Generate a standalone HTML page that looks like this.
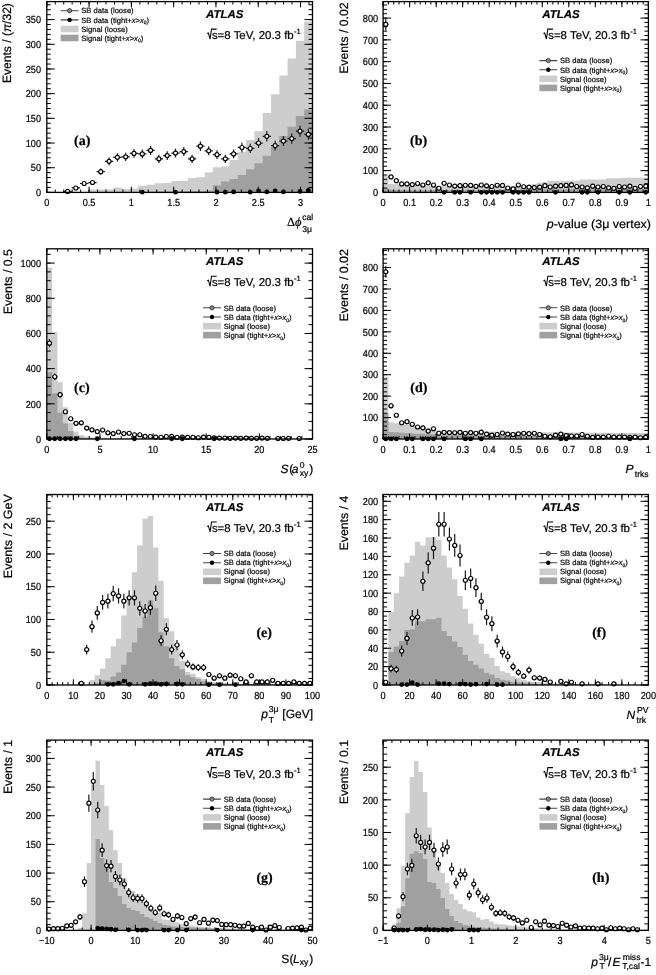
<!DOCTYPE html>
<html><head><meta charset="utf-8"><style>
html,body{margin:0;padding:0;background:#fff;overflow:hidden;}
svg text{stroke:#000;stroke-width:0.22px;}
svg{display:block;font-family:"Liberation Sans", sans-serif;filter:blur(0.3px);text-rendering:geometricPrecision;}
</style></head><body>
<svg width="656" height="975" viewBox="0 0 656 975" fill="#000">
<path d="M46.8,192.4 L46.8,192.4 L55.1,192.4 L55.1,192.4 L63.41,192.4 L63.41,192.4 L71.71,192.4 L71.71,192.4 L80.01,192.4 L80.01,192.4 L88.32,192.4 L88.32,189.44 L96.62,189.44 L96.62,189.44 L104.92,189.44 L104.92,189.44 L113.22,189.44 L113.22,187.46 L121.53,187.46 L121.53,188.94 L129.83,188.94 L129.83,188.45 L138.13,188.45 L138.13,185.74 L146.44,185.74 L146.44,184.7 L154.74,184.7 L154.74,183.37 L163.04,183.37 L163.04,183.07 L171.35,183.07 L171.35,180.95 L179.65,180.95 L179.65,180.8 L187.95,180.8 L187.95,177.98 L196.26,177.98 L196.26,177.19 L204.56,177.19 L204.56,172.16 L212.86,172.16 L212.86,167.22 L221.17,167.22 L221.17,166.23 L229.47,166.23 L229.47,160.06 L237.77,160.06 L237.77,152.02 L246.07,152.02 L246.07,140.07 L254.38,140.07 L254.38,131.18 L262.68,131.18 L262.68,112.91 L270.98,112.91 L270.98,94.15 L279.29,94.15 L279.29,75.39 L287.59,75.39 L287.59,58.61 L295.89,58.61 L295.89,40.83 L304.2,40.83 L304.2,21.58 L312.5,21.58 L312.5,192.4Z" fill="#cdcdcd"/>
<path d="M46.8,192.4 L46.8,192.4 L55.1,192.4 L55.1,192.4 L63.41,192.4 L63.41,192.4 L71.71,192.4 L71.71,192.4 L80.01,192.4 L80.01,192.4 L88.32,192.4 L88.32,192.15 L96.62,192.15 L96.62,192.15 L104.92,192.15 L104.92,192.15 L113.22,192.15 L113.22,191.91 L121.53,191.91 L121.53,191.91 L129.83,191.91 L129.83,191.91 L138.13,191.91 L138.13,191.66 L146.44,191.66 L146.44,191.66 L154.74,191.66 L154.74,191.41 L163.04,191.41 L163.04,191.41 L171.35,191.41 L171.35,191.41 L179.65,191.41 L179.65,191.17 L187.95,191.17 L187.95,190.92 L196.26,190.92 L196.26,190.92 L204.56,190.92 L204.56,190.43 L212.86,190.43 L212.86,185.19 L221.17,185.19 L221.17,181.54 L229.47,181.54 L229.47,179.07 L237.77,179.07 L237.77,175.12 L246.07,175.12 L246.07,169.2 L254.38,169.2 L254.38,163.27 L262.68,163.27 L262.68,155.87 L270.98,155.87 L270.98,146.98 L279.29,146.98 L279.29,136.12 L287.59,136.12 L287.59,126.74 L295.89,126.74 L295.89,115.88 L304.2,115.88 L304.2,109.46 L312.5,109.46 L312.5,192.4Z" fill="#a0a0a0"/>
<path d="M46.8,192.4v-2.9M46.8,1.6v2.9M55.26,192.4v-2.9M55.26,1.6v2.9M63.71,192.4v-2.9M63.71,1.6v2.9M72.17,192.4v-2.9M72.17,1.6v2.9M80.63,192.4v-2.9M80.63,1.6v2.9M89.09,192.4v-2.9M89.09,1.6v2.9M97.54,192.4v-2.9M97.54,1.6v2.9M106,192.4v-2.9M106,1.6v2.9M114.46,192.4v-2.9M114.46,1.6v2.9M122.92,192.4v-2.9M122.92,1.6v2.9M131.37,192.4v-2.9M131.37,1.6v2.9M139.83,192.4v-2.9M139.83,1.6v2.9M148.29,192.4v-2.9M148.29,1.6v2.9M156.75,192.4v-2.9M156.75,1.6v2.9M165.2,192.4v-2.9M165.2,1.6v2.9M173.66,192.4v-2.9M173.66,1.6v2.9M182.12,192.4v-2.9M182.12,1.6v2.9M190.58,192.4v-2.9M190.58,1.6v2.9M199.03,192.4v-2.9M199.03,1.6v2.9M207.49,192.4v-2.9M207.49,1.6v2.9M215.95,192.4v-2.9M215.95,1.6v2.9M224.41,192.4v-2.9M224.41,1.6v2.9M232.86,192.4v-2.9M232.86,1.6v2.9M241.32,192.4v-2.9M241.32,1.6v2.9M249.78,192.4v-2.9M249.78,1.6v2.9M258.24,192.4v-2.9M258.24,1.6v2.9M266.69,192.4v-2.9M266.69,1.6v2.9M275.15,192.4v-2.9M275.15,1.6v2.9M283.61,192.4v-2.9M283.61,1.6v2.9M292.07,192.4v-2.9M292.07,1.6v2.9M300.52,192.4v-2.9M300.52,1.6v2.9M308.98,192.4v-2.9M308.98,1.6v2.9M46.8,192.4v-5.7M46.8,1.6v5.7M89.09,192.4v-5.7M89.09,1.6v5.7M131.37,192.4v-5.7M131.37,1.6v5.7M173.66,192.4v-5.7M173.66,1.6v5.7M215.95,192.4v-5.7M215.95,1.6v5.7M258.24,192.4v-5.7M258.24,1.6v5.7M300.52,192.4v-5.7M300.52,1.6v5.7M46.8,192.4h4.0M312.5,192.4h-4.0M46.8,187.46h4.0M312.5,187.46h-4.0M46.8,182.53h4.0M312.5,182.53h-4.0M46.8,177.59h4.0M312.5,177.59h-4.0M46.8,172.65h4.0M312.5,172.65h-4.0M46.8,167.72h4.0M312.5,167.72h-4.0M46.8,162.78h4.0M312.5,162.78h-4.0M46.8,157.84h4.0M312.5,157.84h-4.0M46.8,152.9h4.0M312.5,152.9h-4.0M46.8,147.97h4.0M312.5,147.97h-4.0M46.8,143.03h4.0M312.5,143.03h-4.0M46.8,138.09h4.0M312.5,138.09h-4.0M46.8,133.16h4.0M312.5,133.16h-4.0M46.8,128.22h4.0M312.5,128.22h-4.0M46.8,123.28h4.0M312.5,123.28h-4.0M46.8,118.34h4.0M312.5,118.34h-4.0M46.8,113.41h4.0M312.5,113.41h-4.0M46.8,108.47h4.0M312.5,108.47h-4.0M46.8,103.53h4.0M312.5,103.53h-4.0M46.8,98.6h4.0M312.5,98.6h-4.0M46.8,93.66h4.0M312.5,93.66h-4.0M46.8,88.72h4.0M312.5,88.72h-4.0M46.8,83.79h4.0M312.5,83.79h-4.0M46.8,78.85h4.0M312.5,78.85h-4.0M46.8,73.91h4.0M312.5,73.91h-4.0M46.8,68.97h4.0M312.5,68.97h-4.0M46.8,64.04h4.0M312.5,64.04h-4.0M46.8,59.1h4.0M312.5,59.1h-4.0M46.8,54.16h4.0M312.5,54.16h-4.0M46.8,49.23h4.0M312.5,49.23h-4.0M46.8,44.29h4.0M312.5,44.29h-4.0M46.8,39.35h4.0M312.5,39.35h-4.0M46.8,34.42h4.0M312.5,34.42h-4.0M46.8,29.48h4.0M312.5,29.48h-4.0M46.8,24.54h4.0M312.5,24.54h-4.0M46.8,19.6h4.0M312.5,19.6h-4.0M46.8,14.67h4.0M312.5,14.67h-4.0M46.8,9.73h4.0M312.5,9.73h-4.0M46.8,4.79h4.0M312.5,4.79h-4.0M46.8,192.4h8.0M312.5,192.4h-8.0M46.8,167.72h8.0M312.5,167.72h-8.0M46.8,143.03h8.0M312.5,143.03h-8.0M46.8,118.34h8.0M312.5,118.34h-8.0M46.8,93.66h8.0M312.5,93.66h-8.0M46.8,68.97h8.0M312.5,68.97h-8.0M46.8,44.29h8.0M312.5,44.29h-8.0M46.8,19.6h8.0M312.5,19.6h-8.0" stroke="#000" stroke-width="1" fill="none"/>
<path d="M63.41,191.41H65.56M69.56,191.41H71.71M67.56,190.71V189.41M67.56,193.41V192.11M71.71,187.96H73.86M77.86,187.96H80.01M75.86,186.48V185.96M75.86,189.96V189.44M80.01,183.51H82.16M86.16,183.51H88.32M84.16,181.42V181.51M84.16,185.51V185.61M88.32,182.53H90.47M94.47,182.53H96.62M92.47,180.32V180.53M92.47,184.53V184.73M96.62,171.66H98.77M102.77,171.66H104.92M100.77,168.47V169.66M100.77,173.66V174.86M104.92,161.3H107.07M111.07,161.3H113.22M109.07,157.38V159.3M109.07,163.3V165.22M113.22,157.35H115.38M119.38,157.35H121.53M117.38,153.19V155.35M117.38,159.35V161.51M121.53,156.85H123.68M127.68,156.85H129.83M125.68,152.66V154.85M125.68,158.85V161.04M129.83,153.4H131.98M135.98,153.4H138.13M133.98,149.01V151.4M133.98,155.4V157.79M138.13,153.89H140.29M144.29,153.89H146.44M142.29,149.53V151.89M142.29,155.89V158.25M146.44,150.44H148.59M152.59,150.44H154.74M150.59,145.88V148.44M150.59,152.44V154.99M154.74,158.83H156.89M160.89,158.83H163.04M158.89,154.76V156.83M158.89,160.83V162.9M163.04,155.62H165.2M169.2,155.62H171.35M167.2,151.36V153.62M167.2,157.62V159.88M171.35,153.05H173.5M177.5,153.05H179.65M175.5,148.64V151.05M175.5,155.05V157.46M179.65,151.57H181.8M185.8,151.57H187.95M183.8,147.08V149.57M183.8,153.57V156.06M187.95,158.83H190.1M194.1,158.83H196.26M192.1,154.76V156.83M192.1,160.83V162.9M196.26,146.19H198.41M202.41,146.19H204.56M200.41,141.41V144.19M200.41,148.19V150.97M204.56,150.83H206.71M210.71,150.83H212.86M208.71,146.3V148.83M208.71,152.83V155.36M212.86,154.63H215.01M219.01,154.63H221.17M217.01,150.31V152.63M217.01,156.63V158.95M221.17,158.83H223.32M227.32,158.83H229.47M225.32,154.76V156.83M225.32,160.83V162.9M229.47,153.89H231.62M235.62,153.89H237.77M233.62,149.53V151.89M233.62,155.89V158.25M237.77,147.47H239.92M243.92,147.47H246.07M241.92,142.76V145.47M241.92,149.47V152.18M246.07,148.46H248.23M252.23,148.46H254.38M250.23,143.8V146.46M250.23,150.46V153.12M254.38,143.03H256.53M260.53,143.03H262.68M258.53,138.09V141.03M258.53,145.03V147.97M262.68,136.37H264.83M268.83,136.37H270.98M266.83,131.11V134.37M266.83,138.37V141.62M270.98,145.6H273.14M277.14,145.6H279.29M275.14,140.79V143.6M275.14,147.6V150.4M279.29,141.06H281.44M285.44,141.06H287.59M283.44,136.02V139.06M283.44,143.06V146.09M287.59,138.59H289.74M293.74,138.59H295.89M291.74,133.43V136.59M291.74,140.59V143.74M295.89,131.18H298.05M302.05,131.18H304.2M300.05,125.68V129.18M300.05,133.18V136.68M304.2,134.39H306.35M310.35,134.39H312.5M308.35,129.04V132.39M308.35,136.39V139.74" stroke="#1a1a1a" stroke-width="1.2" fill="none"/>
<g fill="#fff" stroke="#000" stroke-width="1.15"><circle cx="67.56" cy="191.41" r="2.0"/><circle cx="75.86" cy="187.96" r="2.0"/><circle cx="84.16" cy="183.51" r="2.0"/><circle cx="92.47" cy="182.53" r="2.0"/><circle cx="100.77" cy="171.66" r="2.0"/><circle cx="109.07" cy="161.3" r="2.0"/><circle cx="117.38" cy="157.35" r="2.0"/><circle cx="125.68" cy="156.85" r="2.0"/><circle cx="133.98" cy="153.4" r="2.0"/><circle cx="142.29" cy="153.89" r="2.0"/><circle cx="150.59" cy="150.44" r="2.0"/><circle cx="158.89" cy="158.83" r="2.0"/><circle cx="167.2" cy="155.62" r="2.0"/><circle cx="175.5" cy="153.05" r="2.0"/><circle cx="183.8" cy="151.57" r="2.0"/><circle cx="192.1" cy="158.83" r="2.0"/><circle cx="200.41" cy="146.19" r="2.0"/><circle cx="208.71" cy="150.83" r="2.0"/><circle cx="217.01" cy="154.63" r="2.0"/><circle cx="225.32" cy="158.83" r="2.0"/><circle cx="233.62" cy="153.89" r="2.0"/><circle cx="241.92" cy="147.47" r="2.0"/><circle cx="250.23" cy="148.46" r="2.0"/><circle cx="258.53" cy="143.03" r="2.0"/><circle cx="266.83" cy="136.37" r="2.0"/><circle cx="275.14" cy="145.6" r="2.0"/><circle cx="283.44" cy="141.06" r="2.0"/><circle cx="291.74" cy="138.59" r="2.0"/><circle cx="300.05" cy="131.18" r="2.0"/><circle cx="308.35" cy="134.39" r="2.0"/></g>
<g fill="#000"><circle cx="142.29" cy="192.15" r="2.4"/><circle cx="175.5" cy="192.15" r="2.4"/><circle cx="217.01" cy="192.15" r="2.4"/><circle cx="225.32" cy="192.15" r="2.4"/><circle cx="233.62" cy="191.91" r="2.4"/><circle cx="250.23" cy="192.15" r="2.4"/><circle cx="258.53" cy="190.92" r="2.4"/><circle cx="266.83" cy="191.91" r="2.4"/><circle cx="275.14" cy="190.92" r="2.4"/><circle cx="283.44" cy="191.91" r="2.4"/><circle cx="300.05" cy="191.41" r="2.4"/><circle cx="308.35" cy="190.43" r="2.4"/></g>
<rect x="46.8" y="1.6" width="265.7" height="190.8" fill="none" stroke="#000" stroke-width="1.3"/>
<text transform="translate(46.8,205.9) scale(0.9,1)" text-anchor="middle" font-size="10.2">0</text>
<text transform="translate(89.09,205.9) scale(0.9,1)" text-anchor="middle" font-size="10.2">0.5</text>
<text transform="translate(131.37,205.9) scale(0.9,1)" text-anchor="middle" font-size="10.2">1</text>
<text transform="translate(173.66,205.9) scale(0.9,1)" text-anchor="middle" font-size="10.2">1.5</text>
<text transform="translate(215.95,205.9) scale(0.9,1)" text-anchor="middle" font-size="10.2">2</text>
<text transform="translate(258.24,205.9) scale(0.9,1)" text-anchor="middle" font-size="10.2">2.5</text>
<text transform="translate(300.52,205.9) scale(0.9,1)" text-anchor="middle" font-size="10.2">3</text>
<text transform="translate(41,196.1) scale(0.9,1)" text-anchor="end" font-size="10.2">0</text>
<text transform="translate(41,171.41) scale(0.9,1)" text-anchor="end" font-size="10.2">50</text>
<text transform="translate(41,146.73) scale(0.9,1)" text-anchor="end" font-size="10.2">100</text>
<text transform="translate(41,122.05) scale(0.9,1)" text-anchor="end" font-size="10.2">150</text>
<text transform="translate(41,97.36) scale(0.9,1)" text-anchor="end" font-size="10.2">200</text>
<text transform="translate(41,72.67) scale(0.9,1)" text-anchor="end" font-size="10.2">250</text>
<text transform="translate(41,47.99) scale(0.9,1)" text-anchor="end" font-size="10.2">300</text>
<text transform="translate(41,23.3) scale(0.9,1)" text-anchor="end" font-size="10.2">350</text>
<text transform="translate(10.7,83) rotate(-90)" font-size="12.1" textLength="79.9" lengthAdjust="spacingAndGlyphs">Events / (<tspan font-style="italic">π</tspan>/32)</text>
<text x="287" y="226" font-size="12.5" font-family="Liberation Serif, serif">Δ</text><text x="295.0" y="226" font-size="12.5" font-style="italic" font-family="Liberation Serif, serif">ϕ</text><text x="302.3" y="219.8" font-size="8.6">cal</text><text x="302.3" y="231.8" font-size="8.6">3μ</text>
<text x="206" y="17.7" font-size="11.3" font-weight="bold" font-style="italic" textLength="37.4" lengthAdjust="spacingAndGlyphs">ATLAS</text>
<path d="M207.1,33.6l1.3,-0.6l1.7,6.0l1.4,-9.9h5.2" fill="none" stroke="#000" stroke-width="1.05"/>
<text x="211.9" y="39" font-size="11.4" textLength="81.8" lengthAdjust="spacingAndGlyphs">s=8 TeV, 20.3 fb</text>
<text x="293.9" y="34.2" font-size="7.6">-1</text>
<path d="M60.7,10.7h17.8M60.7,19.9h17.8" stroke="#444" stroke-width="1.1"/><circle cx="69.6" cy="10.7" r="2.1" fill="#888" stroke="#333" stroke-width="0.9"/><circle cx="69.6" cy="19.9" r="2.2" fill="#000"/><rect x="60.7" y="25.7" width="17.8" height="6.6" fill="#cdcdcd"/><rect x="60.7" y="34.7" width="17.8" height="6.6" fill="#a0a0a0"/><g font-size="7.6" fill="#1a1a1a" stroke="#1a1a1a" stroke-width="0.22"><text x="81.3" y="13.4">SB data (loose)</text><text x="81.3" y="22.6">SB data (tight+<tspan font-style="italic">x</tspan>&gt;<tspan font-style="italic">x</tspan><tspan dy="1.8" font-size="5">0</tspan><tspan dy="-1.8">)</tspan></text><text x="81.3" y="31.6">Signal (loose)</text><text x="81.3" y="40.6">Signal (tight+<tspan font-style="italic">x</tspan>&gt;<tspan font-style="italic">x</tspan><tspan dy="1.8" font-size="5">0</tspan><tspan dy="-1.8">)</tspan></text></g>
<text x="74.1" y="144.8" font-family='"Liberation Serif", serif' font-weight="bold" font-size="14">(a)</text>
<path d="M383.1,192.4 L383.1,175.19 L388.41,175.19 L388.41,184.12 L393.71,184.12 L393.71,184.34 L399.02,184.34 L399.02,184.56 L404.32,184.56 L404.32,184.77 L409.63,184.77 L409.63,184.99 L414.94,184.99 L414.94,185.21 L420.24,185.21 L420.24,185.43 L425.55,185.43 L425.55,185.65 L430.85,185.65 L430.85,185.86 L436.16,185.86 L436.16,185.86 L441.47,185.86 L441.47,186.3 L446.77,186.3 L446.77,186.52 L452.08,186.52 L452.08,186.52 L457.38,186.52 L457.38,186.73 L462.69,186.73 L462.69,186.73 L468,186.73 L468,186.73 L473.3,186.73 L473.3,186.73 L478.61,186.73 L478.61,186.73 L483.91,186.73 L483.91,186.73 L489.22,186.73 L489.22,186.52 L494.53,186.52 L494.53,186.52 L499.83,186.52 L499.83,186.52 L505.14,186.52 L505.14,186.3 L510.44,186.3 L510.44,186.3 L515.75,186.3 L515.75,186.3 L521.06,186.3 L521.06,185.86 L526.36,185.86 L526.36,185.21 L531.67,185.21 L531.67,184.12 L536.97,184.12 L536.97,182.81 L542.28,182.81 L542.28,181.94 L547.59,181.94 L547.59,180.63 L552.89,180.63 L552.89,180.63 L558.2,180.63 L558.2,180.63 L563.5,180.63 L563.5,180.63 L568.81,180.63 L568.81,180.63 L574.12,180.63 L574.12,180.63 L579.42,180.63 L579.42,179.54 L584.73,179.54 L584.73,179.54 L590.03,179.54 L590.03,179.54 L595.34,179.54 L595.34,179.54 L600.65,179.54 L600.65,179.54 L605.95,179.54 L605.95,178.24 L611.26,178.24 L611.26,178.24 L616.56,178.24 L616.56,178.24 L621.87,178.24 L621.87,177.8 L627.18,177.8 L627.18,177.8 L632.48,177.8 L632.48,177.8 L637.79,177.8 L637.79,177.8 L643.09,177.8 L643.09,177.8 L648.4,177.8 L648.4,192.4Z" fill="#cdcdcd"/>
<path d="M383.1,192.4 L383.1,188.26 L388.41,188.26 L388.41,189.79 L393.71,189.79 L393.71,190 L399.02,190 L399.02,190 L404.32,190 L404.32,190 L409.63,190 L409.63,190.22 L414.94,190.22 L414.94,190.22 L420.24,190.22 L420.24,190.22 L425.55,190.22 L425.55,190.22 L430.85,190.22 L430.85,190.22 L436.16,190.22 L436.16,190.22 L441.47,190.22 L441.47,190.22 L446.77,190.22 L446.77,190.22 L452.08,190.22 L452.08,190.22 L457.38,190.22 L457.38,190.22 L462.69,190.22 L462.69,190.22 L468,190.22 L468,190.22 L473.3,190.22 L473.3,190.22 L478.61,190.22 L478.61,190.22 L483.91,190.22 L483.91,190.22 L489.22,190.22 L489.22,190.22 L494.53,190.22 L494.53,190.22 L499.83,190.22 L499.83,190.22 L505.14,190.22 L505.14,190.22 L510.44,190.22 L510.44,190.22 L515.75,190.22 L515.75,190 L521.06,190 L521.06,190 L526.36,190 L526.36,190 L531.67,190 L531.67,189.79 L536.97,189.79 L536.97,189.79 L542.28,189.79 L542.28,189.57 L547.59,189.57 L547.59,189.57 L552.89,189.57 L552.89,189.57 L558.2,189.57 L558.2,189.57 L563.5,189.57 L563.5,189.35 L568.81,189.35 L568.81,189.35 L574.12,189.35 L574.12,189.35 L579.42,189.35 L579.42,189.35 L584.73,189.35 L584.73,189.13 L590.03,189.13 L590.03,189.13 L595.34,189.13 L595.34,189.13 L600.65,189.13 L600.65,189.13 L605.95,189.13 L605.95,188.91 L611.26,188.91 L611.26,188.91 L616.56,188.91 L616.56,188.91 L621.87,188.91 L621.87,188.91 L627.18,188.91 L627.18,188.91 L632.48,188.91 L632.48,188.91 L637.79,188.91 L637.79,188.91 L643.09,188.91 L643.09,188.91 L648.4,188.91 L648.4,192.4Z" fill="#a0a0a0"/>
<path d="M383.1,192.4v-2.9M383.1,1.6v2.9M388.41,192.4v-2.9M388.41,1.6v2.9M393.71,192.4v-2.9M393.71,1.6v2.9M399.02,192.4v-2.9M399.02,1.6v2.9M404.32,192.4v-2.9M404.32,1.6v2.9M409.63,192.4v-2.9M409.63,1.6v2.9M414.94,192.4v-2.9M414.94,1.6v2.9M420.24,192.4v-2.9M420.24,1.6v2.9M425.55,192.4v-2.9M425.55,1.6v2.9M430.85,192.4v-2.9M430.85,1.6v2.9M436.16,192.4v-2.9M436.16,1.6v2.9M441.47,192.4v-2.9M441.47,1.6v2.9M446.77,192.4v-2.9M446.77,1.6v2.9M452.08,192.4v-2.9M452.08,1.6v2.9M457.38,192.4v-2.9M457.38,1.6v2.9M462.69,192.4v-2.9M462.69,1.6v2.9M468,192.4v-2.9M468,1.6v2.9M473.3,192.4v-2.9M473.3,1.6v2.9M478.61,192.4v-2.9M478.61,1.6v2.9M483.91,192.4v-2.9M483.91,1.6v2.9M489.22,192.4v-2.9M489.22,1.6v2.9M494.53,192.4v-2.9M494.53,1.6v2.9M499.83,192.4v-2.9M499.83,1.6v2.9M505.14,192.4v-2.9M505.14,1.6v2.9M510.44,192.4v-2.9M510.44,1.6v2.9M515.75,192.4v-2.9M515.75,1.6v2.9M521.06,192.4v-2.9M521.06,1.6v2.9M526.36,192.4v-2.9M526.36,1.6v2.9M531.67,192.4v-2.9M531.67,1.6v2.9M536.97,192.4v-2.9M536.97,1.6v2.9M542.28,192.4v-2.9M542.28,1.6v2.9M547.59,192.4v-2.9M547.59,1.6v2.9M552.89,192.4v-2.9M552.89,1.6v2.9M558.2,192.4v-2.9M558.2,1.6v2.9M563.5,192.4v-2.9M563.5,1.6v2.9M568.81,192.4v-2.9M568.81,1.6v2.9M574.12,192.4v-2.9M574.12,1.6v2.9M579.42,192.4v-2.9M579.42,1.6v2.9M584.73,192.4v-2.9M584.73,1.6v2.9M590.03,192.4v-2.9M590.03,1.6v2.9M595.34,192.4v-2.9M595.34,1.6v2.9M600.65,192.4v-2.9M600.65,1.6v2.9M605.95,192.4v-2.9M605.95,1.6v2.9M611.26,192.4v-2.9M611.26,1.6v2.9M616.56,192.4v-2.9M616.56,1.6v2.9M621.87,192.4v-2.9M621.87,1.6v2.9M627.18,192.4v-2.9M627.18,1.6v2.9M632.48,192.4v-2.9M632.48,1.6v2.9M637.79,192.4v-2.9M637.79,1.6v2.9M643.09,192.4v-2.9M643.09,1.6v2.9M648.4,192.4v-2.9M648.4,1.6v2.9M383.1,192.4v-5.7M383.1,1.6v5.7M409.63,192.4v-5.7M409.63,1.6v5.7M436.16,192.4v-5.7M436.16,1.6v5.7M462.69,192.4v-5.7M462.69,1.6v5.7M489.22,192.4v-5.7M489.22,1.6v5.7M515.75,192.4v-5.7M515.75,1.6v5.7M542.28,192.4v-5.7M542.28,1.6v5.7M568.81,192.4v-5.7M568.81,1.6v5.7M595.34,192.4v-5.7M595.34,1.6v5.7M621.87,192.4v-5.7M621.87,1.6v5.7M648.4,192.4v-5.7M648.4,1.6v5.7M383.1,192.4h4.0M648.4,192.4h-4.0M383.1,188.04h4.0M648.4,188.04h-4.0M383.1,183.68h4.0M648.4,183.68h-4.0M383.1,179.33h4.0M648.4,179.33h-4.0M383.1,174.97h4.0M648.4,174.97h-4.0M383.1,170.61h4.0M648.4,170.61h-4.0M383.1,166.25h4.0M648.4,166.25h-4.0M383.1,161.89h4.0M648.4,161.89h-4.0M383.1,157.54h4.0M648.4,157.54h-4.0M383.1,153.18h4.0M648.4,153.18h-4.0M383.1,148.82h4.0M648.4,148.82h-4.0M383.1,144.46h4.0M648.4,144.46h-4.0M383.1,140.1h4.0M648.4,140.1h-4.0M383.1,135.75h4.0M648.4,135.75h-4.0M383.1,131.39h4.0M648.4,131.39h-4.0M383.1,127.03h4.0M648.4,127.03h-4.0M383.1,122.67h4.0M648.4,122.67h-4.0M383.1,118.31h4.0M648.4,118.31h-4.0M383.1,113.96h4.0M648.4,113.96h-4.0M383.1,109.6h4.0M648.4,109.6h-4.0M383.1,105.24h4.0M648.4,105.24h-4.0M383.1,100.88h4.0M648.4,100.88h-4.0M383.1,96.52h4.0M648.4,96.52h-4.0M383.1,92.17h4.0M648.4,92.17h-4.0M383.1,87.81h4.0M648.4,87.81h-4.0M383.1,83.45h4.0M648.4,83.45h-4.0M383.1,79.09h4.0M648.4,79.09h-4.0M383.1,74.73h4.0M648.4,74.73h-4.0M383.1,70.38h4.0M648.4,70.38h-4.0M383.1,66.02h4.0M648.4,66.02h-4.0M383.1,61.66h4.0M648.4,61.66h-4.0M383.1,57.3h4.0M648.4,57.3h-4.0M383.1,52.94h4.0M648.4,52.94h-4.0M383.1,48.59h4.0M648.4,48.59h-4.0M383.1,44.23h4.0M648.4,44.23h-4.0M383.1,39.87h4.0M648.4,39.87h-4.0M383.1,35.51h4.0M648.4,35.51h-4.0M383.1,31.15h4.0M648.4,31.15h-4.0M383.1,26.8h4.0M648.4,26.8h-4.0M383.1,22.44h4.0M648.4,22.44h-4.0M383.1,18.08h4.0M648.4,18.08h-4.0M383.1,13.72h4.0M648.4,13.72h-4.0M383.1,9.36h4.0M648.4,9.36h-4.0M383.1,5.01h4.0M648.4,5.01h-4.0M383.1,192.4h8.0M648.4,192.4h-8.0M383.1,170.61h8.0M648.4,170.61h-8.0M383.1,148.82h8.0M648.4,148.82h-8.0M383.1,127.03h8.0M648.4,127.03h-8.0M383.1,105.24h8.0M648.4,105.24h-8.0M383.1,83.45h8.0M648.4,83.45h-8.0M383.1,61.66h8.0M648.4,61.66h-8.0M383.1,39.87h8.0M648.4,39.87h-8.0M383.1,18.08h8.0M648.4,18.08h-8.0" stroke="#000" stroke-width="1" fill="none"/>
<path d="M383.1,24.4H383.75M387.75,24.4H388.41M385.75,18.35V22.4M385.75,26.4V30.45M388.41,176.93H389.06M393.06,176.93H393.71M391.06,175.09V174.93M391.06,178.93V178.77M393.71,180.63H394.37M398.37,180.63H399.02M396.37,179.03V178.63M396.37,182.63V182.23M399.02,183.9H399.67M403.67,183.9H404.32M401.67,182.54V181.9M401.67,185.9V185.26M404.32,183.9H404.98M408.98,183.9H409.63M406.98,182.54V181.9M406.98,185.9V185.26M409.63,184.56H410.28M414.28,184.56H414.94M412.28,183.25V182.56M412.28,186.56V185.86M414.94,183.47H415.59M419.59,183.47H420.24M417.59,182.07V181.47M417.59,185.47V184.86M420.24,184.99H420.9M424.9,184.99H425.55M422.9,183.72V182.99M422.9,186.99V186.26M425.55,182.81H426.2M430.2,182.81H430.85M428.2,181.37V180.81M428.2,184.81V184.26M430.85,184.99H431.51M435.51,184.99H436.16M433.51,183.72V182.99M433.51,186.99V186.26M436.16,188.26H436.81M440.81,188.26H441.47M438.81,187.31V186.26M438.81,190.26V189.21M441.47,183.25H442.12M446.12,183.25H446.77M444.12,181.84V181.25M444.12,185.25V184.66M446.77,184.99H447.43M451.43,184.99H452.08M449.43,183.72V182.99M449.43,186.99V186.26M452.08,186.08H452.73M456.73,186.08H457.38M454.73,184.91V184.08M454.73,188.08V187.25M457.38,185.65H458.04M462.04,185.65H462.69M460.04,184.43V183.65M460.04,187.65V186.86M462.69,185.21H463.34M467.34,185.21H468M465.34,183.96V183.21M465.34,187.21V186.46M468,185.43H468.65M472.65,185.43H473.3M470.65,184.19V183.43M470.65,187.43V186.66M473.3,186.3H473.95M477.95,186.3H478.61M475.95,185.15V184.3M475.95,188.3V187.45M478.61,184.99H479.26M483.26,184.99H483.91M481.26,183.72V182.99M481.26,186.99V186.26M483.91,185.86H484.57M488.57,185.86H489.22M486.57,184.67V183.86M486.57,187.86V187.06M489.22,186.52H489.87M493.87,186.52H494.53M491.87,185.38V184.52M491.87,188.52V187.65M494.53,185.21H495.18M499.18,185.21H499.83M497.18,183.96V183.21M497.18,187.21V186.46M499.83,185.43H500.49M504.49,185.43H505.14M502.49,184.19V183.43M502.49,187.43V186.66M505.14,188.04H505.79M509.79,188.04H510.44M507.79,187.07V186.04M507.79,190.04V189.02M510.44,188.91H511.1M515.1,188.91H515.75M513.1,188.04V186.91M513.1,190.91V189.79M515.75,184.99H516.4M520.4,184.99H521.06M518.4,183.72V182.99M518.4,186.99V186.26M521.06,186.73H521.71M525.71,186.73H526.36M523.71,185.62V184.73M523.71,188.73V187.85M526.36,187.17H527.01M531.01,187.17H531.67M529.01,186.1V185.17M529.01,189.17V188.24M531.67,187.61H532.32M536.32,187.61H536.97M534.32,186.58V185.61M534.32,189.61V188.63M536.97,187.17H537.63M541.63,187.17H542.28M539.63,186.1V185.17M539.63,189.17V188.24M542.28,185.65H542.93M546.93,185.65H547.59M544.93,184.43V183.65M544.93,187.65V186.86M547.59,186.95H548.24M552.24,186.95H552.89M550.24,185.86V184.95M550.24,188.95V188.04M552.89,186.19H553.54M557.54,186.19H558.2M555.54,185.03V184.19M555.54,188.19V187.35M558.2,185.65H558.85M562.85,185.65H563.5M560.85,184.43V183.65M560.85,187.65V186.86M563.5,185.43H564.16M568.16,185.43H568.81M566.16,184.19V183.43M566.16,187.43V186.66M568.81,184.88H569.46M573.46,184.88H574.12M571.46,183.6V182.88M571.46,186.88V186.16M574.12,186.52H574.77M578.77,186.52H579.42M576.77,185.38V184.52M576.77,188.52V187.65M579.42,186.95H580.08M584.08,186.95H584.73M582.08,185.86V184.95M582.08,188.95V188.04M584.73,187.82H585.38M589.38,187.82H590.03M587.38,186.83V185.82M587.38,189.82V188.82M590.03,186.19H590.69M594.69,186.19H595.34M592.69,185.03V184.19M592.69,188.19V187.35M595.34,186.95H595.99M599.99,186.95H600.65M597.99,185.86V184.95M597.99,188.95V188.04M600.65,186.52H601.3M605.3,186.52H605.95M603.3,185.38V184.52M603.3,188.52V187.65M605.95,187.82H606.61M610.61,187.82H611.26M608.61,186.83V185.82M608.61,189.82V188.82M611.26,188.37H611.91M615.91,188.37H616.56M613.91,187.43V186.37M613.91,190.37V189.31M616.56,186.52H617.22M621.22,186.52H621.87M619.22,185.38V184.52M619.22,188.52V187.65M621.87,186.95H622.52M626.52,186.95H627.18M624.52,185.86V184.95M624.52,188.95V188.04M627.18,186.19H627.83M631.83,186.19H632.48M629.83,185.03V184.19M629.83,188.19V187.35M632.48,188.37H633.13M637.13,188.37H637.79M635.13,187.43V186.37M635.13,190.37V189.31M637.79,186.52H638.44M642.44,186.52H643.09M640.44,185.38V184.52M640.44,188.52V187.65M643.09,186.19H643.75M647.75,186.19H648.4M645.75,185.03V184.19M645.75,188.19V187.35" stroke="#1a1a1a" stroke-width="1.2" fill="none"/>
<g fill="#fff" stroke="#000" stroke-width="1.15"><circle cx="385.75" cy="24.4" r="2.0"/><circle cx="391.06" cy="176.93" r="2.0"/><circle cx="396.37" cy="180.63" r="2.0"/><circle cx="401.67" cy="183.9" r="2.0"/><circle cx="406.98" cy="183.9" r="2.0"/><circle cx="412.28" cy="184.56" r="2.0"/><circle cx="417.59" cy="183.47" r="2.0"/><circle cx="422.9" cy="184.99" r="2.0"/><circle cx="428.2" cy="182.81" r="2.0"/><circle cx="433.51" cy="184.99" r="2.0"/><circle cx="438.81" cy="188.26" r="2.0"/><circle cx="444.12" cy="183.25" r="2.0"/><circle cx="449.43" cy="184.99" r="2.0"/><circle cx="454.73" cy="186.08" r="2.0"/><circle cx="460.04" cy="185.65" r="2.0"/><circle cx="465.34" cy="185.21" r="2.0"/><circle cx="470.65" cy="185.43" r="2.0"/><circle cx="475.95" cy="186.3" r="2.0"/><circle cx="481.26" cy="184.99" r="2.0"/><circle cx="486.57" cy="185.86" r="2.0"/><circle cx="491.87" cy="186.52" r="2.0"/><circle cx="497.18" cy="185.21" r="2.0"/><circle cx="502.49" cy="185.43" r="2.0"/><circle cx="507.79" cy="188.04" r="2.0"/><circle cx="513.1" cy="188.91" r="2.0"/><circle cx="518.4" cy="184.99" r="2.0"/><circle cx="523.71" cy="186.73" r="2.0"/><circle cx="529.01" cy="187.17" r="2.0"/><circle cx="534.32" cy="187.61" r="2.0"/><circle cx="539.63" cy="187.17" r="2.0"/><circle cx="544.93" cy="185.65" r="2.0"/><circle cx="550.24" cy="186.95" r="2.0"/><circle cx="555.54" cy="186.19" r="2.0"/><circle cx="560.85" cy="185.65" r="2.0"/><circle cx="566.16" cy="185.43" r="2.0"/><circle cx="571.46" cy="184.88" r="2.0"/><circle cx="576.77" cy="186.52" r="2.0"/><circle cx="582.08" cy="186.95" r="2.0"/><circle cx="587.38" cy="187.82" r="2.0"/><circle cx="592.69" cy="186.19" r="2.0"/><circle cx="597.99" cy="186.95" r="2.0"/><circle cx="603.3" cy="186.52" r="2.0"/><circle cx="608.61" cy="187.82" r="2.0"/><circle cx="613.91" cy="188.37" r="2.0"/><circle cx="619.22" cy="186.52" r="2.0"/><circle cx="624.52" cy="186.95" r="2.0"/><circle cx="629.83" cy="186.19" r="2.0"/><circle cx="635.13" cy="188.37" r="2.0"/><circle cx="640.44" cy="186.52" r="2.0"/><circle cx="645.75" cy="186.19" r="2.0"/></g>
<g fill="#000"><circle cx="444.12" cy="192.29" r="2.4"/><circle cx="454.73" cy="192.29" r="2.4"/><circle cx="460.04" cy="192.29" r="2.4"/><circle cx="470.65" cy="192.29" r="2.4"/><circle cx="481.26" cy="192.29" r="2.4"/><circle cx="486.57" cy="192.29" r="2.4"/><circle cx="491.87" cy="192.29" r="2.4"/><circle cx="497.18" cy="192.29" r="2.4"/><circle cx="502.49" cy="192.29" r="2.4"/><circle cx="513.1" cy="192.29" r="2.4"/><circle cx="518.4" cy="192.29" r="2.4"/><circle cx="523.71" cy="192.29" r="2.4"/><circle cx="529.01" cy="192.29" r="2.4"/><circle cx="555.54" cy="192.29" r="2.4"/><circle cx="582.08" cy="192.29" r="2.4"/><circle cx="587.38" cy="192.29" r="2.4"/><circle cx="597.99" cy="192.29" r="2.4"/><circle cx="619.22" cy="192.29" r="2.4"/><circle cx="629.83" cy="192.29" r="2.4"/><circle cx="645.75" cy="192.29" r="2.4"/></g>
<rect x="383.1" y="1.6" width="265.3" height="190.8" fill="none" stroke="#000" stroke-width="1.3"/>
<text transform="translate(383.1,205.9) scale(0.9,1)" text-anchor="middle" font-size="10.2">0</text>
<text transform="translate(409.63,205.9) scale(0.9,1)" text-anchor="middle" font-size="10.2">0.1</text>
<text transform="translate(436.16,205.9) scale(0.9,1)" text-anchor="middle" font-size="10.2">0.2</text>
<text transform="translate(462.69,205.9) scale(0.9,1)" text-anchor="middle" font-size="10.2">0.3</text>
<text transform="translate(489.22,205.9) scale(0.9,1)" text-anchor="middle" font-size="10.2">0.4</text>
<text transform="translate(515.75,205.9) scale(0.9,1)" text-anchor="middle" font-size="10.2">0.5</text>
<text transform="translate(542.28,205.9) scale(0.9,1)" text-anchor="middle" font-size="10.2">0.6</text>
<text transform="translate(568.81,205.9) scale(0.9,1)" text-anchor="middle" font-size="10.2">0.7</text>
<text transform="translate(595.34,205.9) scale(0.9,1)" text-anchor="middle" font-size="10.2">0.8</text>
<text transform="translate(621.87,205.9) scale(0.9,1)" text-anchor="middle" font-size="10.2">0.9</text>
<text transform="translate(648.4,205.9) scale(0.9,1)" text-anchor="middle" font-size="10.2">1</text>
<text transform="translate(378.1,196.1) scale(0.9,1)" text-anchor="end" font-size="10.2">0</text>
<text transform="translate(378.1,174.31) scale(0.9,1)" text-anchor="end" font-size="10.2">100</text>
<text transform="translate(378.1,152.52) scale(0.9,1)" text-anchor="end" font-size="10.2">200</text>
<text transform="translate(378.1,130.73) scale(0.9,1)" text-anchor="end" font-size="10.2">300</text>
<text transform="translate(378.1,108.94) scale(0.9,1)" text-anchor="end" font-size="10.2">400</text>
<text transform="translate(378.1,87.15) scale(0.9,1)" text-anchor="end" font-size="10.2">500</text>
<text transform="translate(378.1,65.36) scale(0.9,1)" text-anchor="end" font-size="10.2">600</text>
<text transform="translate(378.1,43.57) scale(0.9,1)" text-anchor="end" font-size="10.2">700</text>
<text transform="translate(378.1,21.78) scale(0.9,1)" text-anchor="end" font-size="10.2">800</text>
<text transform="translate(347.9,73.8) rotate(-90)" font-size="12.1" textLength="71.3" lengthAdjust="spacingAndGlyphs">Events / 0.02</text>
<text x="651" y="227.6" font-size="12.0" textLength="104.3" lengthAdjust="spacingAndGlyphs" text-anchor="end"><tspan font-style="italic">p</tspan>-value (3μ vertex)</text>
<text x="542.3" y="17.7" font-size="11.3" font-weight="bold" font-style="italic" textLength="37.4" lengthAdjust="spacingAndGlyphs">ATLAS</text>
<path d="M543.4,33.6l1.3,-0.6l1.7,6.0l1.4,-9.9h5.2" fill="none" stroke="#000" stroke-width="1.05"/>
<text x="548.2" y="39" font-size="11.4" textLength="81.8" lengthAdjust="spacingAndGlyphs">s=8 TeV, 20.3 fb</text>
<text x="630.2" y="34.2" font-size="7.6">-1</text>
<path d="M539.4,60.6h17.8M539.4,69.8h17.8" stroke="#444" stroke-width="1.1"/><circle cx="548.3" cy="60.6" r="2.1" fill="#888" stroke="#333" stroke-width="0.9"/><circle cx="548.3" cy="69.8" r="2.2" fill="#000"/><rect x="539.4" y="75.6" width="17.8" height="6.6" fill="#cdcdcd"/><rect x="539.4" y="84.6" width="17.8" height="6.6" fill="#a0a0a0"/><g font-size="7.6" fill="#1a1a1a" stroke="#1a1a1a" stroke-width="0.22"><text x="560" y="63.3">SB data (loose)</text><text x="560" y="72.5">SB data (tight+<tspan font-style="italic">x</tspan>&gt;<tspan font-style="italic">x</tspan><tspan dy="1.8" font-size="5">0</tspan><tspan dy="-1.8">)</tspan></text><text x="560" y="81.5">Signal (loose)</text><text x="560" y="90.5">Signal (tight+<tspan font-style="italic">x</tspan>&gt;<tspan font-style="italic">x</tspan><tspan dy="1.8" font-size="5">0</tspan><tspan dy="-1.8">)</tspan></text></g>
<text x="410.1" y="144.8" font-family='"Liberation Serif", serif' font-weight="bold" font-size="14">(b)</text>
<path d="M46.8,439 L46.8,267.5 L52.11,267.5 L52.11,332.23 L57.43,332.23 L57.43,382.36 L62.74,382.36 L62.74,407.16 L68.06,407.16 L68.06,422.82 L73.37,422.82 L73.37,431.44 L78.68,431.44 L78.68,434.95 L84,434.95 L84,436.54 L89.31,436.54 L89.31,437.42 L94.63,437.42 L94.63,437.77 L99.94,437.77 L99.94,438.12 L105.25,438.12 L105.25,438.3 L110.57,438.3 L110.57,438.3 L115.88,438.3 L115.88,438.47 L121.2,438.47 L121.2,438.47 L126.51,438.47 L126.51,438.47 L131.82,438.47 L131.82,438.65 L137.14,438.65 L137.14,438.65 L142.45,438.65 L142.45,438.65 L147.77,438.65 L147.77,438.65 L153.08,438.65 L153.08,438.65 L158.39,438.65 L158.39,438.65 L163.71,438.65 L163.71,438.74 L169.02,438.74 L169.02,438.74 L174.34,438.74 L174.34,438.74 L179.65,438.74 L179.65,438.74 L184.96,438.74 L184.96,438.82 L190.28,438.82 L190.28,438.82 L195.59,438.82 L195.59,438.82 L200.91,438.82 L200.91,438.82 L206.22,438.82 L206.22,438.82 L211.53,438.82 L211.53,438.82 L216.85,438.82 L216.85,438.82 L222.16,438.82 L222.16,438.82 L227.48,438.82 L227.48,438.82 L232.79,438.82 L232.79,438.82 L238.1,438.82 L238.1,438.82 L243.42,438.82 L243.42,438.82 L248.73,438.82 L248.73,438.82 L254.05,438.82 L254.05,438.82 L259.36,438.82 L259.36,438.82 L264.67,438.82 L264.67,438.82 L269.99,438.82 L269.99,438.82 L275.3,438.82 L275.3,438.82 L280.62,438.82 L280.62,438.82 L285.93,438.82 L285.93,438.82 L291.24,438.82 L291.24,438.82 L296.56,438.82 L296.56,438.82 L301.87,438.82 L301.87,438.82 L307.19,438.82 L307.19,438.82 L312.5,438.82 L312.5,439Z" fill="#cdcdcd"/>
<path d="M46.8,439 L46.8,371.98 L52.11,371.98 L52.11,393.27 L57.43,393.27 L57.43,412.79 L62.74,412.79 L62.74,423.52 L68.06,423.52 L68.06,430.91 L73.37,430.91 L73.37,435.83 L78.68,435.83 L78.68,437.59 L84,437.59 L84,438.3 L89.31,438.3 L89.31,438.47 L94.63,438.47 L94.63,438.65 L99.94,438.65 L99.94,438.65 L105.25,438.65 L105.25,438.74 L110.57,438.74 L110.57,438.74 L115.88,438.74 L115.88,438.82 L121.2,438.82 L121.2,438.82 L126.51,438.82 L126.51,438.82 L131.82,438.82 L131.82,438.82 L137.14,438.82 L137.14,438.82 L142.45,438.82 L142.45,438.82 L147.77,438.82 L147.77,438.82 L153.08,438.82 L153.08,438.82 L158.39,438.82 L158.39,438.82 L163.71,438.82 L163.71,438.91 L169.02,438.91 L169.02,438.91 L174.34,438.91 L174.34,438.91 L179.65,438.91 L179.65,438.91 L184.96,438.91 L184.96,438.91 L190.28,438.91 L190.28,438.91 L195.59,438.91 L195.59,438.91 L200.91,438.91 L200.91,438.91 L206.22,438.91 L206.22,438.91 L211.53,438.91 L211.53,438.91 L216.85,438.91 L216.85,438.91 L222.16,438.91 L222.16,438.91 L227.48,438.91 L227.48,438.91 L232.79,438.91 L232.79,438.91 L238.1,438.91 L238.1,438.91 L243.42,438.91 L243.42,438.91 L248.73,438.91 L248.73,438.91 L254.05,438.91 L254.05,438.91 L259.36,438.91 L259.36,438.91 L264.67,438.91 L264.67,438.91 L269.99,438.91 L269.99,438.91 L275.3,438.91 L275.3,438.91 L280.62,438.91 L280.62,438.91 L285.93,438.91 L285.93,438.91 L291.24,438.91 L291.24,438.91 L296.56,438.91 L296.56,438.91 L301.87,438.91 L301.87,438.91 L307.19,438.91 L307.19,438.91 L312.5,438.91 L312.5,439Z" fill="#a0a0a0"/>
<path d="M46.8,439v-2.9M46.8,248.8v2.9M57.43,439v-2.9M57.43,248.8v2.9M68.06,439v-2.9M68.06,248.8v2.9M78.68,439v-2.9M78.68,248.8v2.9M89.31,439v-2.9M89.31,248.8v2.9M99.94,439v-2.9M99.94,248.8v2.9M110.57,439v-2.9M110.57,248.8v2.9M121.2,439v-2.9M121.2,248.8v2.9M131.82,439v-2.9M131.82,248.8v2.9M142.45,439v-2.9M142.45,248.8v2.9M153.08,439v-2.9M153.08,248.8v2.9M163.71,439v-2.9M163.71,248.8v2.9M174.34,439v-2.9M174.34,248.8v2.9M184.96,439v-2.9M184.96,248.8v2.9M195.59,439v-2.9M195.59,248.8v2.9M206.22,439v-2.9M206.22,248.8v2.9M216.85,439v-2.9M216.85,248.8v2.9M227.48,439v-2.9M227.48,248.8v2.9M238.1,439v-2.9M238.1,248.8v2.9M248.73,439v-2.9M248.73,248.8v2.9M259.36,439v-2.9M259.36,248.8v2.9M269.99,439v-2.9M269.99,248.8v2.9M280.62,439v-2.9M280.62,248.8v2.9M291.24,439v-2.9M291.24,248.8v2.9M301.87,439v-2.9M301.87,248.8v2.9M312.5,439v-2.9M312.5,248.8v2.9M46.8,439v-5.7M46.8,248.8v5.7M99.94,439v-5.7M99.94,248.8v5.7M153.08,439v-5.7M153.08,248.8v5.7M206.22,439v-5.7M206.22,248.8v5.7M259.36,439v-5.7M259.36,248.8v5.7M312.5,439v-5.7M312.5,248.8v5.7M46.8,439h4.0M312.5,439h-4.0M46.8,430.2h4.0M312.5,430.2h-4.0M46.8,421.41h4.0M312.5,421.41h-4.0M46.8,412.62h4.0M312.5,412.62h-4.0M46.8,403.82h4.0M312.5,403.82h-4.0M46.8,395.02h4.0M312.5,395.02h-4.0M46.8,386.23h4.0M312.5,386.23h-4.0M46.8,377.44h4.0M312.5,377.44h-4.0M46.8,368.64h4.0M312.5,368.64h-4.0M46.8,359.85h4.0M312.5,359.85h-4.0M46.8,351.05h4.0M312.5,351.05h-4.0M46.8,342.25h4.0M312.5,342.25h-4.0M46.8,333.46h4.0M312.5,333.46h-4.0M46.8,324.67h4.0M312.5,324.67h-4.0M46.8,315.87h4.0M312.5,315.87h-4.0M46.8,307.07h4.0M312.5,307.07h-4.0M46.8,298.28h4.0M312.5,298.28h-4.0M46.8,289.49h4.0M312.5,289.49h-4.0M46.8,280.69h4.0M312.5,280.69h-4.0M46.8,271.89h4.0M312.5,271.89h-4.0M46.8,263.1h4.0M312.5,263.1h-4.0M46.8,254.31h4.0M312.5,254.31h-4.0M46.8,439h8.0M312.5,439h-8.0M46.8,403.82h8.0M312.5,403.82h-8.0M46.8,368.64h8.0M312.5,368.64h-8.0M46.8,333.46h8.0M312.5,333.46h-8.0M46.8,298.28h8.0M312.5,298.28h-8.0M46.8,263.1h8.0M312.5,263.1h-8.0" stroke="#000" stroke-width="1" fill="none"/>
<path d="M46.8,343.13H47.46M51.46,343.13H52.11M49.46,339.03V341.13M49.46,345.13V347.24M52.11,376.73H52.77M56.77,376.73H57.43M54.77,373.42V374.73M54.77,378.73V380.04M57.43,394.67H58.08M62.08,394.67H62.74M60.08,391.88V392.67M60.08,396.67V397.47M62.74,411.74H63.4M67.4,411.74H68.06M65.4,409.55V409.74M65.4,413.74V413.93M68.06,418.77H68.71M72.71,418.77H73.37M70.71,416.89V416.77M70.71,420.77V420.66M73.37,423.34H74.03M78.03,423.34H78.68M76.03,421.69V421.34M76.03,425.34V425M78.68,422.82H79.34M83.34,422.82H84M81.34,421.13V420.82M81.34,424.82V424.5M84,428.09H84.66M88.66,428.09H89.31M86.66,426.71V426.09M86.66,430.09V429.48M89.31,429.85H89.97M93.97,429.85H94.63M91.97,428.58V427.85M91.97,431.85V431.12M94.63,431.61H95.28M99.28,431.61H99.94M97.28,430.47V429.61M97.28,433.61V432.75M99.94,430.03H100.6M104.6,430.03H105.25M102.6,428.77V428.03M102.6,432.03V431.29M105.25,432.84H105.91M109.91,432.84H110.57M107.91,431.8V430.84M107.91,434.84V433.88M110.57,433.55H111.22M115.22,433.55H115.88M113.22,432.57V431.55M113.22,435.55V434.53M115.88,431.96H116.54M120.54,431.96H121.2M118.54,430.85V429.96M118.54,433.96V433.08M121.2,433.55H121.85M125.85,433.55H126.51M123.85,432.57V431.55M123.85,435.55V434.53M126.51,433.2H127.17M131.17,433.2H131.82M129.17,432.18V431.2M129.17,435.2V434.21M131.82,434.78H132.48M136.48,434.78H137.14M134.48,433.92V432.78M134.48,436.78V435.64M137.14,434.78H137.79M141.79,434.78H142.45M139.79,433.92V432.78M139.79,436.78V435.64M142.45,436.36H143.11M147.11,436.36H147.77M145.11,435.68V434.36M145.11,438.36V437.04M147.77,436.54H148.42M152.42,436.54H153.08M150.42,435.88V434.54M150.42,438.54V437.2M153.08,437.07H153.74M157.74,437.07H158.39M155.74,436.48V435.07M155.74,439.07V437.65M158.39,437.24H159.05M163.05,437.24H163.71M161.05,436.68V435.24M161.05,439.24V437.8M163.71,436.54H164.37M168.37,436.54H169.02M166.37,435.88V434.54M166.37,438.54V437.2M169.02,436.36H169.68M173.68,436.36H174.34M171.68,435.68V434.36M171.68,438.36V437.04M174.34,437.24H174.99M178.99,437.24H179.65M176.99,436.68V435.24M176.99,439.24V437.8M179.65,437.07H180.31M184.31,437.07H184.96M182.31,436.48V435.07M182.31,439.07V437.65M184.96,437.42H185.62M189.62,437.42H190.28M187.62,436.89V435.42M187.62,439.42V437.94M190.28,437.24H190.94M194.94,437.24H195.59M192.94,436.68V435.24M192.94,439.24V437.8M195.59,437.77H196.25M200.25,437.77H200.91M198.25,437.3V435.77M198.25,439.77V438.23M200.91,437.07H201.56M205.56,437.07H206.22M203.56,436.48V435.07M203.56,439.07V437.65M206.22,437.42H206.88M210.88,437.42H211.53M208.88,436.89V435.42M208.88,439.42V437.94M211.53,437.77H212.19M216.19,437.77H216.85M214.19,437.3V435.77M214.19,439.77V438.23M216.85,438.12H217.5M221.5,438.12H222.16M219.5,437.73V436.12M219.5,440.12V438.51M222.16,438.12H222.82M226.82,438.12H227.48M224.82,437.73V436.12M224.82,440.12V438.51M227.48,438.3H228.13M232.13,438.3H232.79M230.13,437.94V436.3M230.13,440.3V438.65M232.79,438.12H233.45M237.45,438.12H238.1M235.45,437.73V436.12M235.45,440.12V438.51M238.1,438.3H238.76M242.76,438.3H243.42M240.76,437.94V436.3M240.76,440.3V438.65M243.42,438.12H244.07M248.07,438.12H248.73M246.07,437.73V436.12M246.07,440.12V438.51M248.73,438.3H249.39M253.39,438.3H254.05M251.39,437.94V436.3M251.39,440.3V438.65M254.05,438.3H254.7M258.7,438.3H259.36M256.7,437.94V436.3M256.7,440.3V438.65M259.36,438.12H260.02M264.02,438.12H264.67M262.02,437.73V436.12M262.02,440.12V438.51M264.67,438.3H265.33M269.33,438.3H269.99M267.33,437.94V436.3M267.33,440.3V438.65M275.3,438.47H275.96M279.96,438.47H280.62M277.96,438.17V436.47M277.96,440.47V438.78M280.62,438.47H281.27M285.27,438.47H285.93M283.27,438.17V436.47M283.27,440.47V438.78M285.93,438.3H286.59M290.59,438.3H291.24M288.59,437.94V436.3M288.59,440.3V438.65M296.56,438.47H297.21M301.21,438.47H301.87M299.21,438.17V436.47M299.21,440.47V438.78" stroke="#1a1a1a" stroke-width="1.2" fill="none"/>
<g fill="#fff" stroke="#000" stroke-width="1.15"><circle cx="49.46" cy="343.13" r="2.0"/><circle cx="54.77" cy="376.73" r="2.0"/><circle cx="60.08" cy="394.67" r="2.0"/><circle cx="65.4" cy="411.74" r="2.0"/><circle cx="70.71" cy="418.77" r="2.0"/><circle cx="76.03" cy="423.34" r="2.0"/><circle cx="81.34" cy="422.82" r="2.0"/><circle cx="86.66" cy="428.09" r="2.0"/><circle cx="91.97" cy="429.85" r="2.0"/><circle cx="97.28" cy="431.61" r="2.0"/><circle cx="102.6" cy="430.03" r="2.0"/><circle cx="107.91" cy="432.84" r="2.0"/><circle cx="113.22" cy="433.55" r="2.0"/><circle cx="118.54" cy="431.96" r="2.0"/><circle cx="123.85" cy="433.55" r="2.0"/><circle cx="129.17" cy="433.2" r="2.0"/><circle cx="134.48" cy="434.78" r="2.0"/><circle cx="139.79" cy="434.78" r="2.0"/><circle cx="145.11" cy="436.36" r="2.0"/><circle cx="150.42" cy="436.54" r="2.0"/><circle cx="155.74" cy="437.07" r="2.0"/><circle cx="161.05" cy="437.24" r="2.0"/><circle cx="166.37" cy="436.54" r="2.0"/><circle cx="171.68" cy="436.36" r="2.0"/><circle cx="176.99" cy="437.24" r="2.0"/><circle cx="182.31" cy="437.07" r="2.0"/><circle cx="187.62" cy="437.42" r="2.0"/><circle cx="192.94" cy="437.24" r="2.0"/><circle cx="198.25" cy="437.77" r="2.0"/><circle cx="203.56" cy="437.07" r="2.0"/><circle cx="208.88" cy="437.42" r="2.0"/><circle cx="214.19" cy="437.77" r="2.0"/><circle cx="219.5" cy="438.12" r="2.0"/><circle cx="224.82" cy="438.12" r="2.0"/><circle cx="230.13" cy="438.3" r="2.0"/><circle cx="235.45" cy="438.12" r="2.0"/><circle cx="240.76" cy="438.3" r="2.0"/><circle cx="246.07" cy="438.12" r="2.0"/><circle cx="251.39" cy="438.3" r="2.0"/><circle cx="256.7" cy="438.3" r="2.0"/><circle cx="262.02" cy="438.12" r="2.0"/><circle cx="267.33" cy="438.3" r="2.0"/><circle cx="277.96" cy="438.47" r="2.0"/><circle cx="283.27" cy="438.47" r="2.0"/><circle cx="288.59" cy="438.3" r="2.0"/><circle cx="299.21" cy="438.47" r="2.0"/></g>
<g fill="#000"><circle cx="49.46" cy="438.74" r="2.4"/><circle cx="54.77" cy="438.74" r="2.4"/><circle cx="60.08" cy="438.74" r="2.4"/><circle cx="65.4" cy="438.74" r="2.4"/><circle cx="70.71" cy="438.74" r="2.4"/><circle cx="76.03" cy="438.74" r="2.4"/><circle cx="97.28" cy="438.74" r="2.4"/><circle cx="134.48" cy="438.74" r="2.4"/><circle cx="171.68" cy="438.74" r="2.4"/><circle cx="182.31" cy="438.74" r="2.4"/><circle cx="214.19" cy="438.74" r="2.4"/></g>
<rect x="46.8" y="248.8" width="265.7" height="190.2" fill="none" stroke="#000" stroke-width="1.3"/>
<text transform="translate(46.8,452.5) scale(0.9,1)" text-anchor="middle" font-size="10.2">0</text>
<text transform="translate(99.94,452.5) scale(0.9,1)" text-anchor="middle" font-size="10.2">5</text>
<text transform="translate(153.08,452.5) scale(0.9,1)" text-anchor="middle" font-size="10.2">10</text>
<text transform="translate(206.22,452.5) scale(0.9,1)" text-anchor="middle" font-size="10.2">15</text>
<text transform="translate(259.36,452.5) scale(0.9,1)" text-anchor="middle" font-size="10.2">20</text>
<text transform="translate(312.5,452.5) scale(0.9,1)" text-anchor="middle" font-size="10.2">25</text>
<text transform="translate(41,442.7) scale(0.9,1)" text-anchor="end" font-size="10.2">0</text>
<text transform="translate(41,407.52) scale(0.9,1)" text-anchor="end" font-size="10.2">200</text>
<text transform="translate(41,372.34) scale(0.9,1)" text-anchor="end" font-size="10.2">400</text>
<text transform="translate(41,337.16) scale(0.9,1)" text-anchor="end" font-size="10.2">600</text>
<text transform="translate(41,301.98) scale(0.9,1)" text-anchor="end" font-size="10.2">800</text>
<text transform="translate(41,266.8) scale(0.9,1)" text-anchor="end" font-size="10.2">1000</text>
<text transform="translate(12.2,314.2) rotate(-90)" font-size="12.1" textLength="65.1" lengthAdjust="spacingAndGlyphs">Events / 0.5</text>
<text x="280.6" y="472.9" font-size="12.0" font-style="italic">S</text><text x="289.2" y="472.9" font-size="12.0">(</text><text x="291.8" y="472.9" font-size="12.0" font-style="italic">a</text><text x="299.8" y="468.2" font-size="8.6">0</text><text x="299.8" y="475.6" font-size="8.6">xy</text><text x="309.2" y="472.9" font-size="12.0">)</text>
<text x="206" y="264.9" font-size="11.3" font-weight="bold" font-style="italic" textLength="37.4" lengthAdjust="spacingAndGlyphs">ATLAS</text>
<path d="M207.1,280.8l1.3,-0.6l1.7,6.0l1.4,-9.9h5.2" fill="none" stroke="#000" stroke-width="1.05"/>
<text x="211.9" y="286.2" font-size="11.4" textLength="81.8" lengthAdjust="spacingAndGlyphs">s=8 TeV, 20.3 fb</text>
<text x="293.9" y="281.4" font-size="7.6">-1</text>
<path d="M203.1,307.8h17.8M203.1,317h17.8" stroke="#444" stroke-width="1.1"/><circle cx="212" cy="307.8" r="2.1" fill="#888" stroke="#333" stroke-width="0.9"/><circle cx="212" cy="317" r="2.2" fill="#000"/><rect x="203.1" y="322.8" width="17.8" height="6.6" fill="#cdcdcd"/><rect x="203.1" y="331.8" width="17.8" height="6.6" fill="#a0a0a0"/><g font-size="7.6" fill="#1a1a1a" stroke="#1a1a1a" stroke-width="0.22"><text x="223.7" y="310.5">SB data (loose)</text><text x="223.7" y="319.7">SB data (tight+<tspan font-style="italic">x</tspan>&gt;<tspan font-style="italic">x</tspan><tspan dy="1.8" font-size="5">0</tspan><tspan dy="-1.8">)</tspan></text><text x="223.7" y="328.7">Signal (loose)</text><text x="223.7" y="337.7">Signal (tight+<tspan font-style="italic">x</tspan>&gt;<tspan font-style="italic">x</tspan><tspan dy="1.8" font-size="5">0</tspan><tspan dy="-1.8">)</tspan></text></g>
<text x="74.1" y="391.9" font-family='"Liberation Serif", serif' font-weight="bold" font-size="14">(c)</text>
<path d="M383.1,439 L383.1,376.85 L388.41,376.85 L388.41,422.28 L393.71,422.28 L393.71,423.14 L399.02,423.14 L399.02,424 L404.32,424 L404.32,424.86 L409.63,424.86 L409.63,425.71 L414.94,425.71 L414.94,426.57 L420.24,426.57 L420.24,427.43 L425.55,427.43 L425.55,428.29 L430.85,428.29 L430.85,429.14 L436.16,429.14 L436.16,430.43 L441.47,430.43 L441.47,430.64 L446.77,430.64 L446.77,430.64 L452.08,430.64 L452.08,430.86 L457.38,430.86 L457.38,430.86 L462.69,430.86 L462.69,431.07 L468,431.07 L468,431.07 L473.3,431.07 L473.3,431.29 L478.61,431.29 L478.61,431.29 L483.91,431.29 L483.91,431.5 L489.22,431.5 L489.22,431.5 L494.53,431.5 L494.53,431.71 L499.83,431.71 L499.83,431.71 L505.14,431.71 L505.14,431.71 L510.44,431.71 L510.44,431.93 L515.75,431.93 L515.75,431.93 L521.06,431.93 L521.06,431.93 L526.36,431.93 L526.36,432.14 L531.67,432.14 L531.67,432.14 L536.97,432.14 L536.97,432.14 L542.28,432.14 L542.28,432.36 L547.59,432.36 L547.59,432.36 L552.89,432.36 L552.89,432.36 L558.2,432.36 L558.2,432.57 L563.5,432.57 L563.5,432.57 L568.81,432.57 L568.81,432.57 L574.12,432.57 L574.12,432.57 L579.42,432.57 L579.42,432.79 L584.73,432.79 L584.73,432.79 L590.03,432.79 L590.03,432.79 L595.34,432.79 L595.34,432.79 L600.65,432.79 L600.65,432.79 L605.95,432.79 L605.95,433 L611.26,433 L611.26,433 L616.56,433 L616.56,433 L621.87,433 L621.87,433 L627.18,433 L627.18,433 L632.48,433 L632.48,433 L637.79,433 L637.79,433 L643.09,433 L643.09,433 L648.4,433 L648.4,439Z" fill="#cdcdcd"/>
<path d="M383.1,439 L383.1,413.28 L388.41,413.28 L388.41,431.93 L393.71,431.93 L393.71,432.36 L399.02,432.36 L399.02,432.79 L404.32,432.79 L404.32,433.21 L409.63,433.21 L409.63,433.43 L414.94,433.43 L414.94,433.64 L420.24,433.64 L420.24,433.86 L425.55,433.86 L425.55,434.07 L430.85,434.07 L430.85,434.29 L436.16,434.29 L436.16,434.93 L441.47,434.93 L441.47,435.14 L446.77,435.14 L446.77,435.14 L452.08,435.14 L452.08,435.14 L457.38,435.14 L457.38,435.36 L462.69,435.36 L462.69,435.36 L468,435.36 L468,435.36 L473.3,435.36 L473.3,435.57 L478.61,435.57 L478.61,435.57 L483.91,435.57 L483.91,435.57 L489.22,435.57 L489.22,435.57 L494.53,435.57 L494.53,435.79 L499.83,435.79 L499.83,435.79 L505.14,435.79 L505.14,435.79 L510.44,435.79 L510.44,435.79 L515.75,435.79 L515.75,435.79 L521.06,435.79 L521.06,436 L526.36,436 L526.36,436 L531.67,436 L531.67,436 L536.97,436 L536.97,436 L542.28,436 L542.28,436 L547.59,436 L547.59,436 L552.89,436 L552.89,436.21 L558.2,436.21 L558.2,436.21 L563.5,436.21 L563.5,436.21 L568.81,436.21 L568.81,436.21 L574.12,436.21 L574.12,436.21 L579.42,436.21 L579.42,436.21 L584.73,436.21 L584.73,436.21 L590.03,436.21 L590.03,436.43 L595.34,436.43 L595.34,436.43 L600.65,436.43 L600.65,436.43 L605.95,436.43 L605.95,436.43 L611.26,436.43 L611.26,436.43 L616.56,436.43 L616.56,436.43 L621.87,436.43 L621.87,436.43 L627.18,436.43 L627.18,436.43 L632.48,436.43 L632.48,436.43 L637.79,436.43 L637.79,436.43 L643.09,436.43 L643.09,436.43 L648.4,436.43 L648.4,439Z" fill="#a0a0a0"/>
<path d="M383.1,439v-2.9M383.1,248.8v2.9M388.41,439v-2.9M388.41,248.8v2.9M393.71,439v-2.9M393.71,248.8v2.9M399.02,439v-2.9M399.02,248.8v2.9M404.32,439v-2.9M404.32,248.8v2.9M409.63,439v-2.9M409.63,248.8v2.9M414.94,439v-2.9M414.94,248.8v2.9M420.24,439v-2.9M420.24,248.8v2.9M425.55,439v-2.9M425.55,248.8v2.9M430.85,439v-2.9M430.85,248.8v2.9M436.16,439v-2.9M436.16,248.8v2.9M441.47,439v-2.9M441.47,248.8v2.9M446.77,439v-2.9M446.77,248.8v2.9M452.08,439v-2.9M452.08,248.8v2.9M457.38,439v-2.9M457.38,248.8v2.9M462.69,439v-2.9M462.69,248.8v2.9M468,439v-2.9M468,248.8v2.9M473.3,439v-2.9M473.3,248.8v2.9M478.61,439v-2.9M478.61,248.8v2.9M483.91,439v-2.9M483.91,248.8v2.9M489.22,439v-2.9M489.22,248.8v2.9M494.53,439v-2.9M494.53,248.8v2.9M499.83,439v-2.9M499.83,248.8v2.9M505.14,439v-2.9M505.14,248.8v2.9M510.44,439v-2.9M510.44,248.8v2.9M515.75,439v-2.9M515.75,248.8v2.9M521.06,439v-2.9M521.06,248.8v2.9M526.36,439v-2.9M526.36,248.8v2.9M531.67,439v-2.9M531.67,248.8v2.9M536.97,439v-2.9M536.97,248.8v2.9M542.28,439v-2.9M542.28,248.8v2.9M547.59,439v-2.9M547.59,248.8v2.9M552.89,439v-2.9M552.89,248.8v2.9M558.2,439v-2.9M558.2,248.8v2.9M563.5,439v-2.9M563.5,248.8v2.9M568.81,439v-2.9M568.81,248.8v2.9M574.12,439v-2.9M574.12,248.8v2.9M579.42,439v-2.9M579.42,248.8v2.9M584.73,439v-2.9M584.73,248.8v2.9M590.03,439v-2.9M590.03,248.8v2.9M595.34,439v-2.9M595.34,248.8v2.9M600.65,439v-2.9M600.65,248.8v2.9M605.95,439v-2.9M605.95,248.8v2.9M611.26,439v-2.9M611.26,248.8v2.9M616.56,439v-2.9M616.56,248.8v2.9M621.87,439v-2.9M621.87,248.8v2.9M627.18,439v-2.9M627.18,248.8v2.9M632.48,439v-2.9M632.48,248.8v2.9M637.79,439v-2.9M637.79,248.8v2.9M643.09,439v-2.9M643.09,248.8v2.9M648.4,439v-2.9M648.4,248.8v2.9M383.1,439v-5.7M383.1,248.8v5.7M409.63,439v-5.7M409.63,248.8v5.7M436.16,439v-5.7M436.16,248.8v5.7M462.69,439v-5.7M462.69,248.8v5.7M489.22,439v-5.7M489.22,248.8v5.7M515.75,439v-5.7M515.75,248.8v5.7M542.28,439v-5.7M542.28,248.8v5.7M568.81,439v-5.7M568.81,248.8v5.7M595.34,439v-5.7M595.34,248.8v5.7M621.87,439v-5.7M621.87,248.8v5.7M648.4,439v-5.7M648.4,248.8v5.7M383.1,439h4.0M648.4,439h-4.0M383.1,434.71h4.0M648.4,434.71h-4.0M383.1,430.43h4.0M648.4,430.43h-4.0M383.1,426.14h4.0M648.4,426.14h-4.0M383.1,421.86h4.0M648.4,421.86h-4.0M383.1,417.57h4.0M648.4,417.57h-4.0M383.1,413.28h4.0M648.4,413.28h-4.0M383.1,409h4.0M648.4,409h-4.0M383.1,404.71h4.0M648.4,404.71h-4.0M383.1,400.43h4.0M648.4,400.43h-4.0M383.1,396.14h4.0M648.4,396.14h-4.0M383.1,391.85h4.0M648.4,391.85h-4.0M383.1,387.57h4.0M648.4,387.57h-4.0M383.1,383.28h4.0M648.4,383.28h-4.0M383.1,379h4.0M648.4,379h-4.0M383.1,374.71h4.0M648.4,374.71h-4.0M383.1,370.42h4.0M648.4,370.42h-4.0M383.1,366.14h4.0M648.4,366.14h-4.0M383.1,361.85h4.0M648.4,361.85h-4.0M383.1,357.57h4.0M648.4,357.57h-4.0M383.1,353.28h4.0M648.4,353.28h-4.0M383.1,348.99h4.0M648.4,348.99h-4.0M383.1,344.71h4.0M648.4,344.71h-4.0M383.1,340.42h4.0M648.4,340.42h-4.0M383.1,336.14h4.0M648.4,336.14h-4.0M383.1,331.85h4.0M648.4,331.85h-4.0M383.1,327.56h4.0M648.4,327.56h-4.0M383.1,323.28h4.0M648.4,323.28h-4.0M383.1,318.99h4.0M648.4,318.99h-4.0M383.1,314.71h4.0M648.4,314.71h-4.0M383.1,310.42h4.0M648.4,310.42h-4.0M383.1,306.13h4.0M648.4,306.13h-4.0M383.1,301.85h4.0M648.4,301.85h-4.0M383.1,297.56h4.0M648.4,297.56h-4.0M383.1,293.28h4.0M648.4,293.28h-4.0M383.1,288.99h4.0M648.4,288.99h-4.0M383.1,284.7h4.0M648.4,284.7h-4.0M383.1,280.42h4.0M648.4,280.42h-4.0M383.1,276.13h4.0M648.4,276.13h-4.0M383.1,271.85h4.0M648.4,271.85h-4.0M383.1,267.56h4.0M648.4,267.56h-4.0M383.1,263.27h4.0M648.4,263.27h-4.0M383.1,258.99h4.0M648.4,258.99h-4.0M383.1,254.7h4.0M648.4,254.7h-4.0M383.1,250.42h4.0M648.4,250.42h-4.0M383.1,439h8.0M648.4,439h-8.0M383.1,417.57h8.0M648.4,417.57h-8.0M383.1,396.14h8.0M648.4,396.14h-8.0M383.1,374.71h8.0M648.4,374.71h-8.0M383.1,353.28h8.0M648.4,353.28h-8.0M383.1,331.85h8.0M648.4,331.85h-8.0M383.1,310.42h8.0M648.4,310.42h-8.0M383.1,288.99h8.0M648.4,288.99h-8.0M383.1,267.56h8.0M648.4,267.56h-8.0" stroke="#000" stroke-width="1" fill="none"/>
<path d="M383.1,271.85H383.75M387.75,271.85H388.41M385.75,265.86V269.85M385.75,273.85V277.83M388.41,405.78H389.06M393.06,405.78H393.71M391.06,403.12V403.78M391.06,407.78V408.45M393.71,415.21H394.37M398.37,415.21H399.02M396.37,412.95V413.21M396.37,417.21V417.47M399.02,422.71H399.67M403.67,422.71H404.32M401.67,420.84V420.71M401.67,424.71V424.58M404.32,421.64H404.98M408.98,421.64H409.63M406.98,419.71V419.64M406.98,423.64V423.57M409.63,424.21H410.28M414.28,424.21H414.94M412.28,422.43V422.21M412.28,426.21V425.99M414.94,427H415.59M419.59,427H420.24M417.59,425.4V425M417.59,429V428.6M420.24,427.86H420.9M424.9,427.86H425.55M422.9,426.31V425.86M422.9,429.86V429.4M425.55,431.07H426.2M430.2,431.07H430.85M428.2,429.77V429.07M428.2,433.07V432.37M430.85,428.71H431.51M435.51,428.71H436.16M433.51,427.23V426.71M433.51,430.71V430.2M436.16,433.21H436.81M440.81,433.21H441.47M438.81,432.1V431.21M438.81,435.21V434.33M441.47,432.36H442.12M446.12,432.36H446.77M444.12,431.16V430.36M444.12,434.36V433.55M446.77,432.57H447.43M451.43,432.57H452.08M449.43,431.4V430.57M449.43,434.57V433.74M452.08,432.79H452.73M456.73,432.79H457.38M454.73,431.63V430.79M454.73,434.79V433.94M457.38,432.36H458.04M462.04,432.36H462.69M460.04,431.16V430.36M460.04,434.36V433.55M462.69,433.21H463.34M467.34,433.21H468M465.34,432.1V431.21M465.34,435.21V434.33M468,432.57H468.65M472.65,432.57H473.3M470.65,431.4V430.57M470.65,434.57V433.74M473.3,433.21H473.95M477.95,433.21H478.61M475.95,432.1V431.21M475.95,435.21V434.33M478.61,432.14H479.26M483.26,432.14H483.91M481.26,430.93V430.14M481.26,434.14V433.35M483.91,434.07H484.57M488.57,434.07H489.22M486.57,433.04V432.07M486.57,436.07V435.1M489.22,435.14H489.87M493.87,435.14H494.53M491.87,434.23V433.14M491.87,437.14V436.05M494.53,434.5H495.18M499.18,434.5H499.83M497.18,433.52V432.5M497.18,436.5V435.48M499.83,433H500.49M504.49,433H505.14M502.49,431.87V431M502.49,435V434.13M505.14,434.07H505.79M509.79,434.07H510.44M507.79,433.04V432.07M507.79,436.07V435.1M510.44,434.5H511.1M515.1,434.5H515.75M513.1,433.52V432.5M513.1,436.5V435.48M515.75,433.86H516.4M520.4,433.86H521.06M518.4,432.81V431.86M518.4,435.86V434.91M521.06,433.21H521.71M525.71,433.21H526.36M523.71,432.1V431.21M523.71,435.21V434.33M526.36,433.64H527.01M531.01,433.64H531.67M529.01,432.57V431.64M529.01,435.64V434.71M531.67,433.21H532.32M536.32,433.21H536.97M534.32,432.1V431.21M534.32,435.21V434.33M536.97,434.5H537.63M541.63,434.5H542.28M539.63,433.52V432.5M539.63,436.5V435.48M542.28,436.21H542.93M546.93,436.21H547.59M544.93,435.44V434.21M544.93,438.21V436.99M547.59,436.86H548.24M552.24,436.86H552.89M550.24,436.18V434.86M550.24,438.86V437.53M552.89,435.14H553.54M557.54,435.14H558.2M555.54,434.23V433.14M555.54,437.14V436.05M558.2,434.07H558.85M562.85,434.07H563.5M560.85,433.04V432.07M560.85,436.07V435.1M563.5,435.57H564.16M568.16,435.57H568.81M566.16,434.71V433.57M566.16,437.57V436.43M568.81,436H569.46M573.46,436H574.12M571.46,435.2V434M571.46,438V436.8M574.12,436H574.77M578.77,436H579.42M576.77,435.2V434M576.77,438V436.8M579.42,434.5H580.08M584.08,434.5H584.73M582.08,433.52V432.5M582.08,436.5V435.48M584.73,436.21H585.38M589.38,436.21H590.03M587.38,435.44V434.21M587.38,438.21V436.99M590.03,437.39H590.69M594.69,437.39H595.34M592.69,436.81V435.39M592.69,439.39V437.98M595.34,437.07H595.99M599.99,437.07H600.65M597.99,436.43V435.07M597.99,439.07V437.71M600.65,437.07H601.3M605.3,437.07H605.95M603.3,436.43V435.07M603.3,439.07V437.71M605.95,436.21H606.61M610.61,436.21H611.26M608.61,435.44V434.21M608.61,438.21V436.99M611.26,437.07H611.91M615.91,437.07H616.56M613.91,436.43V435.07M613.91,439.07V437.71M616.56,437.07H617.22M621.22,437.07H621.87M619.22,436.43V435.07M619.22,439.07V437.71M621.87,437.07H622.52M626.52,437.07H627.18M624.52,436.43V435.07M624.52,439.07V437.71M627.18,437.39H627.83M631.83,437.39H632.48M629.83,436.81V435.39M629.83,439.39V437.98M632.48,437.07H633.13M637.13,437.07H637.79M635.13,436.43V435.07M635.13,439.07V437.71M637.79,437.71H638.44M642.44,437.71H643.09M640.44,437.19V435.71M640.44,439.71V438.24M643.09,437.39H643.75M647.75,437.39H648.4M645.75,436.81V435.39M645.75,439.39V437.98" stroke="#1a1a1a" stroke-width="1.2" fill="none"/>
<g fill="#fff" stroke="#000" stroke-width="1.15"><circle cx="385.75" cy="271.85" r="2.0"/><circle cx="391.06" cy="405.78" r="2.0"/><circle cx="396.37" cy="415.21" r="2.0"/><circle cx="401.67" cy="422.71" r="2.0"/><circle cx="406.98" cy="421.64" r="2.0"/><circle cx="412.28" cy="424.21" r="2.0"/><circle cx="417.59" cy="427" r="2.0"/><circle cx="422.9" cy="427.86" r="2.0"/><circle cx="428.2" cy="431.07" r="2.0"/><circle cx="433.51" cy="428.71" r="2.0"/><circle cx="438.81" cy="433.21" r="2.0"/><circle cx="444.12" cy="432.36" r="2.0"/><circle cx="449.43" cy="432.57" r="2.0"/><circle cx="454.73" cy="432.79" r="2.0"/><circle cx="460.04" cy="432.36" r="2.0"/><circle cx="465.34" cy="433.21" r="2.0"/><circle cx="470.65" cy="432.57" r="2.0"/><circle cx="475.95" cy="433.21" r="2.0"/><circle cx="481.26" cy="432.14" r="2.0"/><circle cx="486.57" cy="434.07" r="2.0"/><circle cx="491.87" cy="435.14" r="2.0"/><circle cx="497.18" cy="434.5" r="2.0"/><circle cx="502.49" cy="433" r="2.0"/><circle cx="507.79" cy="434.07" r="2.0"/><circle cx="513.1" cy="434.5" r="2.0"/><circle cx="518.4" cy="433.86" r="2.0"/><circle cx="523.71" cy="433.21" r="2.0"/><circle cx="529.01" cy="433.64" r="2.0"/><circle cx="534.32" cy="433.21" r="2.0"/><circle cx="539.63" cy="434.5" r="2.0"/><circle cx="544.93" cy="436.21" r="2.0"/><circle cx="550.24" cy="436.86" r="2.0"/><circle cx="555.54" cy="435.14" r="2.0"/><circle cx="560.85" cy="434.07" r="2.0"/><circle cx="566.16" cy="435.57" r="2.0"/><circle cx="571.46" cy="436" r="2.0"/><circle cx="576.77" cy="436" r="2.0"/><circle cx="582.08" cy="434.5" r="2.0"/><circle cx="587.38" cy="436.21" r="2.0"/><circle cx="592.69" cy="437.39" r="2.0"/><circle cx="597.99" cy="437.07" r="2.0"/><circle cx="603.3" cy="437.07" r="2.0"/><circle cx="608.61" cy="436.21" r="2.0"/><circle cx="613.91" cy="437.07" r="2.0"/><circle cx="619.22" cy="437.07" r="2.0"/><circle cx="624.52" cy="437.07" r="2.0"/><circle cx="629.83" cy="437.39" r="2.0"/><circle cx="635.13" cy="437.07" r="2.0"/><circle cx="640.44" cy="437.71" r="2.0"/><circle cx="645.75" cy="437.39" r="2.0"/></g>
<g fill="#000"><circle cx="385.75" cy="438.89" r="2.4"/><circle cx="391.06" cy="438.89" r="2.4"/><circle cx="396.37" cy="438.89" r="2.4"/><circle cx="406.98" cy="438.89" r="2.4"/><circle cx="412.28" cy="438.89" r="2.4"/><circle cx="422.9" cy="438.89" r="2.4"/><circle cx="428.2" cy="438.89" r="2.4"/><circle cx="433.51" cy="438.89" r="2.4"/><circle cx="444.12" cy="438.89" r="2.4"/><circle cx="465.34" cy="438.89" r="2.4"/><circle cx="470.65" cy="438.89" r="2.4"/><circle cx="481.26" cy="438.89" r="2.4"/><circle cx="560.85" cy="438.89" r="2.4"/><circle cx="566.16" cy="438.89" r="2.4"/><circle cx="629.83" cy="438.89" r="2.4"/></g>
<rect x="383.1" y="248.8" width="265.3" height="190.2" fill="none" stroke="#000" stroke-width="1.3"/>
<text transform="translate(383.1,452.5) scale(0.9,1)" text-anchor="middle" font-size="10.2">0</text>
<text transform="translate(409.63,452.5) scale(0.9,1)" text-anchor="middle" font-size="10.2">0.1</text>
<text transform="translate(436.16,452.5) scale(0.9,1)" text-anchor="middle" font-size="10.2">0.2</text>
<text transform="translate(462.69,452.5) scale(0.9,1)" text-anchor="middle" font-size="10.2">0.3</text>
<text transform="translate(489.22,452.5) scale(0.9,1)" text-anchor="middle" font-size="10.2">0.4</text>
<text transform="translate(515.75,452.5) scale(0.9,1)" text-anchor="middle" font-size="10.2">0.5</text>
<text transform="translate(542.28,452.5) scale(0.9,1)" text-anchor="middle" font-size="10.2">0.6</text>
<text transform="translate(568.81,452.5) scale(0.9,1)" text-anchor="middle" font-size="10.2">0.7</text>
<text transform="translate(595.34,452.5) scale(0.9,1)" text-anchor="middle" font-size="10.2">0.8</text>
<text transform="translate(621.87,452.5) scale(0.9,1)" text-anchor="middle" font-size="10.2">0.9</text>
<text transform="translate(648.4,452.5) scale(0.9,1)" text-anchor="middle" font-size="10.2">1</text>
<text transform="translate(378.1,442.7) scale(0.9,1)" text-anchor="end" font-size="10.2">0</text>
<text transform="translate(378.1,421.27) scale(0.9,1)" text-anchor="end" font-size="10.2">100</text>
<text transform="translate(378.1,399.84) scale(0.9,1)" text-anchor="end" font-size="10.2">200</text>
<text transform="translate(378.1,378.41) scale(0.9,1)" text-anchor="end" font-size="10.2">300</text>
<text transform="translate(378.1,356.98) scale(0.9,1)" text-anchor="end" font-size="10.2">400</text>
<text transform="translate(378.1,335.55) scale(0.9,1)" text-anchor="end" font-size="10.2">500</text>
<text transform="translate(378.1,314.12) scale(0.9,1)" text-anchor="end" font-size="10.2">600</text>
<text transform="translate(378.1,292.69) scale(0.9,1)" text-anchor="end" font-size="10.2">700</text>
<text transform="translate(378.1,271.26) scale(0.9,1)" text-anchor="end" font-size="10.2">800</text>
<text transform="translate(347.8,321.4) rotate(-90)" font-size="12.1" textLength="72.3" lengthAdjust="spacingAndGlyphs">Events / 0.02</text>
<text x="625.4" y="472.8" font-size="12.0" font-style="italic">P</text><text x="634.8" y="476.6" font-size="8.6">trks</text>
<text x="542.3" y="264.9" font-size="11.3" font-weight="bold" font-style="italic" textLength="37.4" lengthAdjust="spacingAndGlyphs">ATLAS</text>
<path d="M543.4,280.8l1.3,-0.6l1.7,6.0l1.4,-9.9h5.2" fill="none" stroke="#000" stroke-width="1.05"/>
<text x="548.2" y="286.2" font-size="11.4" textLength="81.8" lengthAdjust="spacingAndGlyphs">s=8 TeV, 20.3 fb</text>
<text x="630.2" y="281.4" font-size="7.6">-1</text>
<path d="M539.4,307.8h17.8M539.4,317h17.8" stroke="#444" stroke-width="1.1"/><circle cx="548.3" cy="307.8" r="2.1" fill="#888" stroke="#333" stroke-width="0.9"/><circle cx="548.3" cy="317" r="2.2" fill="#000"/><rect x="539.4" y="322.8" width="17.8" height="6.6" fill="#cdcdcd"/><rect x="539.4" y="331.8" width="17.8" height="6.6" fill="#a0a0a0"/><g font-size="7.6" fill="#1a1a1a" stroke="#1a1a1a" stroke-width="0.22"><text x="560" y="310.5">SB data (loose)</text><text x="560" y="319.7">SB data (tight+<tspan font-style="italic">x</tspan>&gt;<tspan font-style="italic">x</tspan><tspan dy="1.8" font-size="5">0</tspan><tspan dy="-1.8">)</tspan></text><text x="560" y="328.7">Signal (loose)</text><text x="560" y="337.7">Signal (tight+<tspan font-style="italic">x</tspan>&gt;<tspan font-style="italic">x</tspan><tspan dy="1.8" font-size="5">0</tspan><tspan dy="-1.8">)</tspan></text></g>
<text x="410.3" y="391.9" font-family='"Liberation Serif", serif' font-weight="bold" font-size="14">(d)</text>
<path d="M46.8,685 L46.8,685 L52.11,685 L52.11,685 L57.43,685 L57.43,685 L62.74,685 L62.74,685 L68.06,685 L68.06,685 L73.37,685 L73.37,685 L78.68,685 L78.68,685 L84,685 L84,685 L89.31,685 L89.31,680.02 L94.63,680.02 L94.63,675.17 L99.94,675.17 L99.94,668.62 L105.25,668.62 L105.25,658.14 L110.57,658.14 L110.57,646.34 L115.88,646.34 L115.88,638.81 L121.2,638.81 L121.2,615.55 L126.51,615.55 L126.51,599.82 L131.82,599.82 L131.82,572.31 L137.14,572.31 L137.14,545.44 L142.45,545.44 L142.45,518.58 L147.77,518.58 L147.77,515.96 L153.08,515.96 L153.08,547.41 L158.39,547.41 L158.39,580.82 L163.71,580.82 L163.71,618.17 L169.02,618.17 L169.02,631.27 L174.34,631.27 L174.34,648.31 L179.65,648.31 L179.65,660.76 L184.96,660.76 L184.96,671.9 L190.28,671.9 L190.28,673.86 L195.59,673.86 L195.59,677.14 L200.91,677.14 L200.91,679.1 L206.22,679.1 L206.22,681.27 L211.53,681.27 L211.53,682.38 L216.85,682.38 L216.85,682.71 L222.16,682.71 L222.16,683.03 L227.48,683.03 L227.48,683.36 L232.79,683.36 L232.79,683.69 L238.1,683.69 L238.1,684.02 L243.42,684.02 L243.42,684.02 L248.73,684.02 L248.73,684.02 L254.05,684.02 L254.05,684.34 L259.36,684.34 L259.36,684.34 L264.67,684.34 L264.67,684.34 L269.99,684.34 L269.99,684.34 L275.3,684.34 L275.3,684.34 L280.62,684.34 L280.62,684.67 L285.93,684.67 L285.93,684.67 L291.24,684.67 L291.24,684.67 L296.56,684.67 L296.56,684.67 L301.87,684.67 L301.87,684.67 L307.19,684.67 L307.19,684.67 L312.5,684.67 L312.5,685Z" fill="#cdcdcd"/>
<path d="M46.8,685 L46.8,685 L52.11,685 L52.11,685 L57.43,685 L57.43,685 L62.74,685 L62.74,685 L68.06,685 L68.06,685 L73.37,685 L73.37,685 L78.68,685 L78.68,685 L84,685 L84,685 L89.31,685 L89.31,684.34 L94.63,684.34 L94.63,683.03 L99.94,683.03 L99.94,680.09 L105.25,680.09 L105.25,680.41 L110.57,680.41 L110.57,676.48 L115.88,676.48 L115.88,672.55 L121.2,672.55 L121.2,664.69 L126.51,664.69 L126.51,652.24 L131.82,652.24 L131.82,642.41 L137.14,642.41 L137.14,628 L142.45,628 L142.45,616.86 L147.77,616.86 L147.77,600.48 L153.08,600.48 L153.08,608.34 L158.39,608.34 L158.39,632.19 L163.71,632.19 L163.71,646.34 L169.02,646.34 L169.02,658.14 L174.34,658.14 L174.34,666 L179.65,666 L179.65,669.28 L184.96,669.28 L184.96,675.17 L190.28,675.17 L190.28,677.14 L195.59,677.14 L195.59,679.1 L200.91,679.1 L200.91,681.27 L206.22,681.27 L206.22,682.38 L211.53,682.38 L211.53,683.03 L216.85,683.03 L216.85,683.36 L222.16,683.36 L222.16,683.69 L227.48,683.69 L227.48,684.02 L232.79,684.02 L232.79,684.02 L238.1,684.02 L238.1,684.34 L243.42,684.34 L243.42,684.34 L248.73,684.34 L248.73,684.34 L254.05,684.34 L254.05,684.67 L259.36,684.67 L259.36,684.67 L264.67,684.67 L264.67,684.67 L269.99,684.67 L269.99,684.67 L275.3,684.67 L275.3,684.67 L280.62,684.67 L280.62,684.8 L285.93,684.8 L285.93,684.8 L291.24,684.8 L291.24,684.8 L296.56,684.8 L296.56,684.8 L301.87,684.8 L301.87,684.8 L307.19,684.8 L307.19,684.8 L312.5,684.8 L312.5,685Z" fill="#a0a0a0"/>
<path d="M46.8,685v-2.9M46.8,494.5v2.9M52.11,685v-2.9M52.11,494.5v2.9M57.43,685v-2.9M57.43,494.5v2.9M62.74,685v-2.9M62.74,494.5v2.9M68.06,685v-2.9M68.06,494.5v2.9M73.37,685v-2.9M73.37,494.5v2.9M78.68,685v-2.9M78.68,494.5v2.9M84,685v-2.9M84,494.5v2.9M89.31,685v-2.9M89.31,494.5v2.9M94.63,685v-2.9M94.63,494.5v2.9M99.94,685v-2.9M99.94,494.5v2.9M105.25,685v-2.9M105.25,494.5v2.9M110.57,685v-2.9M110.57,494.5v2.9M115.88,685v-2.9M115.88,494.5v2.9M121.2,685v-2.9M121.2,494.5v2.9M126.51,685v-2.9M126.51,494.5v2.9M131.82,685v-2.9M131.82,494.5v2.9M137.14,685v-2.9M137.14,494.5v2.9M142.45,685v-2.9M142.45,494.5v2.9M147.77,685v-2.9M147.77,494.5v2.9M153.08,685v-2.9M153.08,494.5v2.9M158.39,685v-2.9M158.39,494.5v2.9M163.71,685v-2.9M163.71,494.5v2.9M169.02,685v-2.9M169.02,494.5v2.9M174.34,685v-2.9M174.34,494.5v2.9M179.65,685v-2.9M179.65,494.5v2.9M184.96,685v-2.9M184.96,494.5v2.9M190.28,685v-2.9M190.28,494.5v2.9M195.59,685v-2.9M195.59,494.5v2.9M200.91,685v-2.9M200.91,494.5v2.9M206.22,685v-2.9M206.22,494.5v2.9M211.53,685v-2.9M211.53,494.5v2.9M216.85,685v-2.9M216.85,494.5v2.9M222.16,685v-2.9M222.16,494.5v2.9M227.48,685v-2.9M227.48,494.5v2.9M232.79,685v-2.9M232.79,494.5v2.9M238.1,685v-2.9M238.1,494.5v2.9M243.42,685v-2.9M243.42,494.5v2.9M248.73,685v-2.9M248.73,494.5v2.9M254.05,685v-2.9M254.05,494.5v2.9M259.36,685v-2.9M259.36,494.5v2.9M264.67,685v-2.9M264.67,494.5v2.9M269.99,685v-2.9M269.99,494.5v2.9M275.3,685v-2.9M275.3,494.5v2.9M280.62,685v-2.9M280.62,494.5v2.9M285.93,685v-2.9M285.93,494.5v2.9M291.24,685v-2.9M291.24,494.5v2.9M296.56,685v-2.9M296.56,494.5v2.9M301.87,685v-2.9M301.87,494.5v2.9M307.19,685v-2.9M307.19,494.5v2.9M312.5,685v-2.9M312.5,494.5v2.9M46.8,685v-5.7M46.8,494.5v5.7M73.37,685v-5.7M73.37,494.5v5.7M99.94,685v-5.7M99.94,494.5v5.7M126.51,685v-5.7M126.51,494.5v5.7M153.08,685v-5.7M153.08,494.5v5.7M179.65,685v-5.7M179.65,494.5v5.7M206.22,685v-5.7M206.22,494.5v5.7M232.79,685v-5.7M232.79,494.5v5.7M259.36,685v-5.7M259.36,494.5v5.7M285.93,685v-5.7M285.93,494.5v5.7M312.5,685v-5.7M312.5,494.5v5.7M46.8,685h4.0M312.5,685h-4.0M46.8,678.45h4.0M312.5,678.45h-4.0M46.8,671.9h4.0M312.5,671.9h-4.0M46.8,665.34h4.0M312.5,665.34h-4.0M46.8,658.79h4.0M312.5,658.79h-4.0M46.8,652.24h4.0M312.5,652.24h-4.0M46.8,645.69h4.0M312.5,645.69h-4.0M46.8,639.14h4.0M312.5,639.14h-4.0M46.8,632.58h4.0M312.5,632.58h-4.0M46.8,626.03h4.0M312.5,626.03h-4.0M46.8,619.48h4.0M312.5,619.48h-4.0M46.8,612.93h4.0M312.5,612.93h-4.0M46.8,606.38h4.0M312.5,606.38h-4.0M46.8,599.82h4.0M312.5,599.82h-4.0M46.8,593.27h4.0M312.5,593.27h-4.0M46.8,586.72h4.0M312.5,586.72h-4.0M46.8,580.17h4.0M312.5,580.17h-4.0M46.8,573.62h4.0M312.5,573.62h-4.0M46.8,567.06h4.0M312.5,567.06h-4.0M46.8,560.51h4.0M312.5,560.51h-4.0M46.8,553.96h4.0M312.5,553.96h-4.0M46.8,547.41h4.0M312.5,547.41h-4.0M46.8,540.86h4.0M312.5,540.86h-4.0M46.8,534.3h4.0M312.5,534.3h-4.0M46.8,527.75h4.0M312.5,527.75h-4.0M46.8,521.2h4.0M312.5,521.2h-4.0M46.8,514.65h4.0M312.5,514.65h-4.0M46.8,508.1h4.0M312.5,508.1h-4.0M46.8,501.54h4.0M312.5,501.54h-4.0M46.8,494.99h4.0M312.5,494.99h-4.0M46.8,685h8.0M312.5,685h-8.0M46.8,652.24h8.0M312.5,652.24h-8.0M46.8,619.48h8.0M312.5,619.48h-8.0M46.8,586.72h8.0M312.5,586.72h-8.0M46.8,553.96h8.0M312.5,553.96h-8.0M46.8,521.2h8.0M312.5,521.2h-8.0" stroke="#000" stroke-width="1" fill="none"/>
<path d="M78.68,683.36H79.34M83.34,683.36H84M81.34,682.33V681.36M81.34,685.36V684.4M84,649.62H84.66M88.66,649.62H89.31M86.66,644.8V647.62M86.66,651.62V654.43M89.31,626.69H89.97M93.97,626.69H94.63M91.97,620.51V624.69M91.97,628.69V632.87M94.63,612.93H95.28M99.28,612.93H99.94M97.28,606.06V610.93M97.28,614.93V619.8M99.94,602.44H100.6M104.6,602.44H105.25M102.6,595.09V600.44M102.6,604.44V609.8M105.25,601.13H105.91M109.91,601.13H110.57M107.91,593.72V599.13M107.91,603.13V608.55M110.57,593.6H111.22M115.22,593.6H115.88M113.22,585.86V591.6M113.22,595.6V601.34M115.88,595.89H116.54M120.54,595.89H121.2M118.54,588.25V593.89M118.54,597.89V603.53M121.2,601.13H121.85M125.85,601.13H126.51M123.85,593.72V599.13M123.85,603.13V608.55M126.51,597.86H127.17M131.17,597.86H131.82M129.17,590.3V595.86M129.17,599.86V605.41M131.82,597.86H132.48M136.48,597.86H137.14M134.48,590.3V595.86M134.48,599.86V605.41M137.14,608.34H137.79M141.79,608.34H142.45M139.79,601.25V606.34M139.79,610.34V615.43M142.45,610.96H143.11M147.11,610.96H147.77M145.11,604V608.96M145.11,612.96V617.93M147.77,607.69H148.42M152.42,607.69H153.08M150.42,600.57V605.69M150.42,609.69V614.8M153.08,593.27H153.74M157.74,593.27H158.39M155.74,585.52V591.27M155.74,595.27V601.02M158.39,640.71H159.05M163.05,640.71H163.71M161.05,635.32V638.71M161.05,642.71V646.1M163.71,629.31H164.37M168.37,629.31H169.02M166.37,623.27V627.31M166.37,631.31V635.35M169.02,649.62H169.68M173.68,649.62H174.34M171.68,644.8V647.62M171.68,651.62V654.43M174.34,645.03H174.99M178.99,645.03H179.65M176.99,639.92V643.03M176.99,647.03V650.15M179.65,654.86H180.31M184.31,654.86H184.96M182.31,650.42V652.86M182.31,656.86V659.3M184.96,664.03H185.62M189.62,664.03H190.28M187.62,660.33V662.03M187.62,666.03V667.74M190.28,666.92H190.94M194.94,666.92H195.59M192.94,663.47V664.92M192.94,668.92V670.36M195.59,667.51H196.25M200.25,667.51H200.91M198.25,664.12V665.51M198.25,669.51V670.89M200.91,667.51H201.56M205.56,667.51H206.22M203.56,664.12V665.51M203.56,669.51V670.89M206.22,674.52H206.88M210.88,674.52H211.53M208.88,671.9V672.52M208.88,676.52V677.14M211.53,678.19H212.19M216.19,678.19H216.85M214.19,676.07V676.19M214.19,680.19V680.3M216.85,675.7H217.5M221.5,675.7H222.16M219.5,673.23V673.7M219.5,677.7V678.17M222.16,678.19H222.82M226.82,678.19H227.48M224.82,676.07V676.19M224.82,680.19V680.3M227.48,675.17H228.13M232.13,675.17H232.79M230.13,672.63V673.17M230.13,677.17V677.71M232.79,675.7H233.45M237.45,675.7H238.1M235.45,673.23V673.7M235.45,677.7V678.17M238.1,678.78H238.76M242.76,678.78H243.42M240.76,676.76V676.78M240.76,680.78V680.8M243.42,681.92H244.07M248.07,681.92H248.73M246.07,680.5V679.92M246.07,683.92V683.34M248.73,675.7H249.39M253.39,675.7H254.05M251.39,673.23V673.7M251.39,677.7V678.17M254.05,681.92H254.7M258.7,681.92H259.36M256.7,680.5V679.92M256.7,683.92V683.34M259.36,681.92H260.02M264.02,681.92H264.67M262.02,680.5V679.92M262.02,683.92V683.34M264.67,681.92H265.33M269.33,681.92H269.99M267.33,680.5V679.92M267.33,683.92V683.34M269.99,680.22H270.64M274.64,680.22H275.3M272.64,678.45V678.22M272.64,682.22V681.99M275.3,683.3H275.96M279.96,683.3H280.62M277.96,682.24V681.3M277.96,685.3V684.35M280.62,683.3H281.27M285.27,683.3H285.93M283.27,682.24V681.3M283.27,685.3V684.35M285.93,683.3H286.59M290.59,683.3H291.24M288.59,682.24V681.3M288.59,685.3V684.35M291.24,681.92H291.9M295.9,681.92H296.56M293.9,680.5V679.92M293.9,683.92V683.34M296.56,683.3H297.21M301.21,683.3H301.87M299.21,682.24V681.3M299.21,685.3V684.35M301.87,683.3H302.53M306.53,683.3H307.19M304.53,682.24V681.3M304.53,685.3V684.35M307.19,683.3H307.84M311.84,683.3H312.5M309.84,682.24V681.3M309.84,685.3V684.35" stroke="#1a1a1a" stroke-width="1.2" fill="none"/>
<g fill="#fff" stroke="#000" stroke-width="1.15"><circle cx="81.34" cy="683.36" r="2.0"/><circle cx="86.66" cy="649.62" r="2.0"/><circle cx="91.97" cy="626.69" r="2.0"/><circle cx="97.28" cy="612.93" r="2.0"/><circle cx="102.6" cy="602.44" r="2.0"/><circle cx="107.91" cy="601.13" r="2.0"/><circle cx="113.22" cy="593.6" r="2.0"/><circle cx="118.54" cy="595.89" r="2.0"/><circle cx="123.85" cy="601.13" r="2.0"/><circle cx="129.17" cy="597.86" r="2.0"/><circle cx="134.48" cy="597.86" r="2.0"/><circle cx="139.79" cy="608.34" r="2.0"/><circle cx="145.11" cy="610.96" r="2.0"/><circle cx="150.42" cy="607.69" r="2.0"/><circle cx="155.74" cy="593.27" r="2.0"/><circle cx="161.05" cy="640.71" r="2.0"/><circle cx="166.37" cy="629.31" r="2.0"/><circle cx="171.68" cy="649.62" r="2.0"/><circle cx="176.99" cy="645.03" r="2.0"/><circle cx="182.31" cy="654.86" r="2.0"/><circle cx="187.62" cy="664.03" r="2.0"/><circle cx="192.94" cy="666.92" r="2.0"/><circle cx="198.25" cy="667.51" r="2.0"/><circle cx="203.56" cy="667.51" r="2.0"/><circle cx="208.88" cy="674.52" r="2.0"/><circle cx="214.19" cy="678.19" r="2.0"/><circle cx="219.5" cy="675.7" r="2.0"/><circle cx="224.82" cy="678.19" r="2.0"/><circle cx="230.13" cy="675.17" r="2.0"/><circle cx="235.45" cy="675.7" r="2.0"/><circle cx="240.76" cy="678.78" r="2.0"/><circle cx="246.07" cy="681.92" r="2.0"/><circle cx="251.39" cy="675.7" r="2.0"/><circle cx="256.7" cy="681.92" r="2.0"/><circle cx="262.02" cy="681.92" r="2.0"/><circle cx="267.33" cy="681.92" r="2.0"/><circle cx="272.64" cy="680.22" r="2.0"/><circle cx="277.96" cy="683.3" r="2.0"/><circle cx="283.27" cy="683.3" r="2.0"/><circle cx="288.59" cy="683.3" r="2.0"/><circle cx="293.9" cy="681.92" r="2.0"/><circle cx="299.21" cy="683.3" r="2.0"/><circle cx="304.53" cy="683.3" r="2.0"/><circle cx="309.84" cy="683.3" r="2.0"/></g>
<g fill="#000"><circle cx="107.91" cy="684.34" r="2.4"/><circle cx="113.22" cy="684.34" r="2.4"/><circle cx="118.54" cy="683.03" r="2.4"/><circle cx="123.85" cy="681.07" r="2.4"/><circle cx="129.17" cy="684.34" r="2.4"/><circle cx="145.11" cy="684.34" r="2.4"/><circle cx="150.42" cy="683.69" r="2.4"/><circle cx="155.74" cy="683.69" r="2.4"/><circle cx="161.05" cy="684.34" r="2.4"/><circle cx="166.37" cy="684.02" r="2.4"/><circle cx="176.99" cy="684.02" r="2.4"/><circle cx="182.31" cy="684.34" r="2.4"/><circle cx="208.88" cy="684.67" r="2.4"/><circle cx="219.5" cy="684.67" r="2.4"/><circle cx="235.45" cy="684.67" r="2.4"/></g>
<rect x="46.8" y="494.5" width="265.7" height="190.5" fill="none" stroke="#000" stroke-width="1.3"/>
<text transform="translate(46.8,698.5) scale(0.9,1)" text-anchor="middle" font-size="10.2">0</text>
<text transform="translate(73.37,698.5) scale(0.9,1)" text-anchor="middle" font-size="10.2">10</text>
<text transform="translate(99.94,698.5) scale(0.9,1)" text-anchor="middle" font-size="10.2">20</text>
<text transform="translate(126.51,698.5) scale(0.9,1)" text-anchor="middle" font-size="10.2">30</text>
<text transform="translate(153.08,698.5) scale(0.9,1)" text-anchor="middle" font-size="10.2">40</text>
<text transform="translate(179.65,698.5) scale(0.9,1)" text-anchor="middle" font-size="10.2">50</text>
<text transform="translate(206.22,698.5) scale(0.9,1)" text-anchor="middle" font-size="10.2">60</text>
<text transform="translate(232.79,698.5) scale(0.9,1)" text-anchor="middle" font-size="10.2">70</text>
<text transform="translate(259.36,698.5) scale(0.9,1)" text-anchor="middle" font-size="10.2">80</text>
<text transform="translate(285.93,698.5) scale(0.9,1)" text-anchor="middle" font-size="10.2">90</text>
<text transform="translate(312.5,698.5) scale(0.9,1)" text-anchor="middle" font-size="10.2">100</text>
<text transform="translate(41,688.7) scale(0.9,1)" text-anchor="end" font-size="10.2">0</text>
<text transform="translate(41,655.94) scale(0.9,1)" text-anchor="end" font-size="10.2">50</text>
<text transform="translate(41,623.18) scale(0.9,1)" text-anchor="end" font-size="10.2">100</text>
<text transform="translate(41,590.42) scale(0.9,1)" text-anchor="end" font-size="10.2">150</text>
<text transform="translate(41,557.66) scale(0.9,1)" text-anchor="end" font-size="10.2">200</text>
<text transform="translate(41,524.9) scale(0.9,1)" text-anchor="end" font-size="10.2">250</text>
<text transform="translate(12.2,578.2) rotate(-90)" font-size="12.1" textLength="84.1" lengthAdjust="spacingAndGlyphs">Events / 2 GeV</text>
<text x="261.2" y="717.8" font-size="12.0" font-style="italic">p</text><text x="268.8" y="712.0" font-size="8.6">3μ</text><text x="268.8" y="723.0" font-size="8.6">T</text><text x="282.3" y="717.8" font-size="12.0">[GeV]</text>
<text x="206" y="510.6" font-size="11.3" font-weight="bold" font-style="italic" textLength="37.4" lengthAdjust="spacingAndGlyphs">ATLAS</text>
<path d="M207.1,526.5l1.3,-0.6l1.7,6.0l1.4,-9.9h5.2" fill="none" stroke="#000" stroke-width="1.05"/>
<text x="211.9" y="531.9" font-size="11.4" textLength="81.8" lengthAdjust="spacingAndGlyphs">s=8 TeV, 20.3 fb</text>
<text x="293.9" y="527.1" font-size="7.6">-1</text>
<path d="M203.1,553.5h17.8M203.1,562.7h17.8" stroke="#444" stroke-width="1.1"/><circle cx="212" cy="553.5" r="2.1" fill="#888" stroke="#333" stroke-width="0.9"/><circle cx="212" cy="562.7" r="2.2" fill="#000"/><rect x="203.1" y="568.5" width="17.8" height="6.6" fill="#cdcdcd"/><rect x="203.1" y="577.5" width="17.8" height="6.6" fill="#a0a0a0"/><g font-size="7.6" fill="#1a1a1a" stroke="#1a1a1a" stroke-width="0.22"><text x="223.7" y="556.2">SB data (loose)</text><text x="223.7" y="565.4">SB data (tight+<tspan font-style="italic">x</tspan>&gt;<tspan font-style="italic">x</tspan><tspan dy="1.8" font-size="5">0</tspan><tspan dy="-1.8">)</tspan></text><text x="223.7" y="574.4">Signal (loose)</text><text x="223.7" y="583.4">Signal (tight+<tspan font-style="italic">x</tspan>&gt;<tspan font-style="italic">x</tspan><tspan dy="1.8" font-size="5">0</tspan><tspan dy="-1.8">)</tspan></text></g>
<text x="256.4" y="637.2" font-family='"Liberation Serif", serif' font-weight="bold" font-size="14">(e)</text>
<path d="M383.1,685 L383.1,685 L388.41,685 L388.41,612.07 L393.71,612.07 L393.71,593.15 L399.02,593.15 L399.02,576.62 L404.32,576.62 L404.32,562.84 L409.63,562.84 L409.63,555.49 L414.94,555.49 L414.94,541.71 L420.24,541.71 L420.24,545.39 L425.55,545.39 L425.55,537.4 L430.85,537.4 L430.85,537.12 L436.16,537.12 L436.16,539.88 L441.47,539.88 L441.47,555.49 L446.77,555.49 L446.77,567.43 L452.08,567.43 L452.08,579.37 L457.38,579.37 L457.38,595.91 L462.69,595.91 L462.69,608.76 L468,608.76 L468,623.46 L473.3,623.46 L473.3,634.67 L478.61,634.67 L478.61,643.76 L483.91,643.76 L483.91,653.77 L489.22,653.77 L489.22,657.63 L494.53,657.63 L494.53,665.99 L499.83,665.99 L499.83,671.31 L505.14,671.31 L505.14,672.78 L510.44,672.78 L510.44,676.18 L515.75,676.18 L515.75,678.11 L521.06,678.11 L521.06,679.67 L526.36,679.67 L526.36,681.33 L531.67,681.33 L531.67,681.79 L536.97,681.79 L536.97,682.24 L542.28,682.24 L542.28,682.7 L547.59,682.7 L547.59,683.16 L552.89,683.16 L552.89,683.62 L558.2,683.62 L558.2,683.62 L563.5,683.62 L563.5,684.08 L568.81,684.08 L568.81,684.08 L574.12,684.08 L574.12,684.08 L579.42,684.08 L579.42,684.36 L584.73,684.36 L584.73,684.36 L590.03,684.36 L590.03,684.54 L595.34,684.54 L595.34,684.54 L600.65,684.54 L600.65,684.54 L605.95,684.54 L605.95,684.72 L611.26,684.72 L611.26,684.72 L616.56,684.72 L616.56,684.72 L621.87,684.72 L621.87,684.82 L627.18,684.82 L627.18,684.82 L632.48,684.82 L632.48,684.82 L637.79,684.82 L637.79,684.82 L643.09,684.82 L643.09,684.82 L648.4,684.82 L648.4,685Z" fill="#cdcdcd"/>
<path d="M383.1,685 L383.1,685 L388.41,685 L388.41,651.93 L393.71,651.93 L393.71,646.42 L399.02,646.42 L399.02,640.91 L404.32,640.91 L404.32,629.89 L409.63,629.89 L409.63,629.34 L414.94,629.34 L414.94,621.35 L420.24,621.35 L420.24,621.35 L425.55,621.35 L425.55,619.33 L430.85,619.33 L430.85,619.33 L436.16,619.33 L436.16,617.67 L441.47,617.67 L441.47,631.08 L446.77,631.08 L446.77,636.04 L452.08,636.04 L452.08,641.46 L457.38,641.46 L457.38,646.97 L462.69,646.97 L462.69,654.69 L468,654.69 L468,661.12 L473.3,661.12 L473.3,664.79 L478.61,664.79 L478.61,668.47 L483.91,668.47 L483.91,672.78 L489.22,672.78 L489.22,674.62 L494.53,674.62 L494.53,678.11 L499.83,678.11 L499.83,679.67 L505.14,679.67 L505.14,680.41 L510.44,680.41 L510.44,681.97 L515.75,681.97 L515.75,682.24 L521.06,682.24 L521.06,682.7 L526.36,682.7 L526.36,683.16 L531.67,683.16 L531.67,683.62 L536.97,683.62 L536.97,683.9 L542.28,683.9 L542.28,684.08 L547.59,684.08 L547.59,684.27 L552.89,684.27 L552.89,684.45 L558.2,684.45 L558.2,684.54 L563.5,684.54 L563.5,684.63 L568.81,684.63 L568.81,684.72 L574.12,684.72 L574.12,684.72 L579.42,684.72 L579.42,684.82 L584.73,684.82 L584.73,684.82 L590.03,684.82 L590.03,684.82 L595.34,684.82 L595.34,684.91 L600.65,684.91 L600.65,684.91 L605.95,684.91 L605.95,684.91 L611.26,684.91 L611.26,684.91 L616.56,684.91 L616.56,684.91 L621.87,684.91 L621.87,684.91 L627.18,684.91 L627.18,684.91 L632.48,684.91 L632.48,684.91 L637.79,684.91 L637.79,684.91 L643.09,684.91 L643.09,684.91 L648.4,684.91 L648.4,685Z" fill="#a0a0a0"/>
<path d="M383.1,685v-2.9M383.1,494.5v2.9M389.73,685v-2.9M389.73,494.5v2.9M396.37,685v-2.9M396.37,494.5v2.9M403,685v-2.9M403,494.5v2.9M409.63,685v-2.9M409.63,494.5v2.9M416.26,685v-2.9M416.26,494.5v2.9M422.9,685v-2.9M422.9,494.5v2.9M429.53,685v-2.9M429.53,494.5v2.9M436.16,685v-2.9M436.16,494.5v2.9M442.79,685v-2.9M442.79,494.5v2.9M449.43,685v-2.9M449.43,494.5v2.9M456.06,685v-2.9M456.06,494.5v2.9M462.69,685v-2.9M462.69,494.5v2.9M469.32,685v-2.9M469.32,494.5v2.9M475.95,685v-2.9M475.95,494.5v2.9M482.59,685v-2.9M482.59,494.5v2.9M489.22,685v-2.9M489.22,494.5v2.9M495.85,685v-2.9M495.85,494.5v2.9M502.49,685v-2.9M502.49,494.5v2.9M509.12,685v-2.9M509.12,494.5v2.9M515.75,685v-2.9M515.75,494.5v2.9M522.38,685v-2.9M522.38,494.5v2.9M529.01,685v-2.9M529.01,494.5v2.9M535.65,685v-2.9M535.65,494.5v2.9M542.28,685v-2.9M542.28,494.5v2.9M548.91,685v-2.9M548.91,494.5v2.9M555.54,685v-2.9M555.54,494.5v2.9M562.18,685v-2.9M562.18,494.5v2.9M568.81,685v-2.9M568.81,494.5v2.9M575.44,685v-2.9M575.44,494.5v2.9M582.08,685v-2.9M582.08,494.5v2.9M588.71,685v-2.9M588.71,494.5v2.9M595.34,685v-2.9M595.34,494.5v2.9M601.97,685v-2.9M601.97,494.5v2.9M608.61,685v-2.9M608.61,494.5v2.9M615.24,685v-2.9M615.24,494.5v2.9M621.87,685v-2.9M621.87,494.5v2.9M628.5,685v-2.9M628.5,494.5v2.9M635.13,685v-2.9M635.13,494.5v2.9M641.77,685v-2.9M641.77,494.5v2.9M648.4,685v-2.9M648.4,494.5v2.9M383.1,685v-5.7M383.1,494.5v5.7M409.63,685v-5.7M409.63,494.5v5.7M436.16,685v-5.7M436.16,494.5v5.7M462.69,685v-5.7M462.69,494.5v5.7M489.22,685v-5.7M489.22,494.5v5.7M515.75,685v-5.7M515.75,494.5v5.7M542.28,685v-5.7M542.28,494.5v5.7M568.81,685v-5.7M568.81,494.5v5.7M595.34,685v-5.7M595.34,494.5v5.7M621.87,685v-5.7M621.87,494.5v5.7M648.4,685v-5.7M648.4,494.5v5.7M383.1,685h4.0M648.4,685h-4.0M383.1,680.41h4.0M648.4,680.41h-4.0M383.1,675.82h4.0M648.4,675.82h-4.0M383.1,671.22h4.0M648.4,671.22h-4.0M383.1,666.63h4.0M648.4,666.63h-4.0M383.1,662.04h4.0M648.4,662.04h-4.0M383.1,657.45h4.0M648.4,657.45h-4.0M383.1,652.85h4.0M648.4,652.85h-4.0M383.1,648.26h4.0M648.4,648.26h-4.0M383.1,643.67h4.0M648.4,643.67h-4.0M383.1,639.08h4.0M648.4,639.08h-4.0M383.1,634.48h4.0M648.4,634.48h-4.0M383.1,629.89h4.0M648.4,629.89h-4.0M383.1,625.3h4.0M648.4,625.3h-4.0M383.1,620.71h4.0M648.4,620.71h-4.0M383.1,616.11h4.0M648.4,616.11h-4.0M383.1,611.52h4.0M648.4,611.52h-4.0M383.1,606.93h4.0M648.4,606.93h-4.0M383.1,602.34h4.0M648.4,602.34h-4.0M383.1,597.74h4.0M648.4,597.74h-4.0M383.1,593.15h4.0M648.4,593.15h-4.0M383.1,588.56h4.0M648.4,588.56h-4.0M383.1,583.97h4.0M648.4,583.97h-4.0M383.1,579.37h4.0M648.4,579.37h-4.0M383.1,574.78h4.0M648.4,574.78h-4.0M383.1,570.19h4.0M648.4,570.19h-4.0M383.1,565.6h4.0M648.4,565.6h-4.0M383.1,561h4.0M648.4,561h-4.0M383.1,556.41h4.0M648.4,556.41h-4.0M383.1,551.82h4.0M648.4,551.82h-4.0M383.1,547.23h4.0M648.4,547.23h-4.0M383.1,542.63h4.0M648.4,542.63h-4.0M383.1,538.04h4.0M648.4,538.04h-4.0M383.1,533.45h4.0M648.4,533.45h-4.0M383.1,528.86h4.0M648.4,528.86h-4.0M383.1,524.26h4.0M648.4,524.26h-4.0M383.1,519.67h4.0M648.4,519.67h-4.0M383.1,515.08h4.0M648.4,515.08h-4.0M383.1,510.49h4.0M648.4,510.49h-4.0M383.1,505.89h4.0M648.4,505.89h-4.0M383.1,501.3h4.0M648.4,501.3h-4.0M383.1,496.71h4.0M648.4,496.71h-4.0M383.1,685h8.0M648.4,685h-8.0M383.1,666.63h8.0M648.4,666.63h-8.0M383.1,648.26h8.0M648.4,648.26h-8.0M383.1,629.89h8.0M648.4,629.89h-8.0M383.1,611.52h8.0M648.4,611.52h-8.0M383.1,593.15h8.0M648.4,593.15h-8.0M383.1,574.78h8.0M648.4,574.78h-8.0M383.1,556.41h8.0M648.4,556.41h-8.0M383.1,538.04h8.0M648.4,538.04h-8.0M383.1,519.67h8.0M648.4,519.67h-8.0M383.1,501.3h8.0M648.4,501.3h-8.0" stroke="#000" stroke-width="1" fill="none"/>
<path d="M383.1,682.24H383.75M387.75,682.24H388.41M385.75,680.65V680.24M385.75,684.24V683.84M388.41,668.56H389.06M393.06,668.56H393.71M391.06,664.67V666.56M391.06,670.56V672.44M393.71,669.57H394.37M398.37,669.57H399.02M396.37,665.8V667.57M396.37,671.57V673.33M399.02,651.02H399.67M403.67,651.02H404.32M401.67,645.43V649.02M401.67,653.02V656.6M404.32,638.43H404.98M408.98,638.43H409.63M406.98,631.89V636.43M406.98,640.43V644.97M409.63,617.95H410.28M414.28,617.95H414.94M412.28,610.1V615.95M412.28,619.95V625.8M414.94,617.03H415.59M419.59,617.03H420.24M417.59,609.13V615.03M417.59,619.03V624.93M420.24,581.21H420.9M424.9,581.21H425.55M422.9,571.45V579.21M422.9,583.21V590.97M425.55,562.84H426.2M430.2,562.84H430.85M428.2,552.25V560.84M428.2,564.84V573.43M430.85,548.14H431.51M435.51,548.14H436.16M433.51,536.93V546.14M433.51,550.14V559.36M436.16,524.26H436.81M440.81,524.26H441.47M438.81,512.11V522.26M438.81,526.26V536.41M441.47,524.26H442.12M446.12,524.26H446.77M444.12,512.11V522.26M444.12,526.26V536.41M446.77,538.96H447.43M451.43,538.96H452.08M449.43,527.38V536.96M449.43,540.96V550.54M452.08,545.39H452.73M456.73,545.39H457.38M454.73,534.06V543.39M454.73,547.39V556.71M457.38,555.49H458.04M462.04,555.49H462.69M460.04,544.58V553.49M460.04,557.49V566.4M462.69,580.29H463.34M467.34,580.29H468M465.34,570.48V578.29M465.34,582.29V590.1M468,578.45H468.65M472.65,578.45H473.3M470.65,568.56V576.45M470.65,580.45V588.35M473.3,587.64H473.95M477.95,587.64H478.61M475.95,578.18V585.64M475.95,589.64V597.1M478.61,601.42H479.26M483.26,601.42H483.91M481.26,592.65V599.42M481.26,603.42V610.18M483.91,617.21H484.57M488.57,617.21H489.22M486.57,609.32V615.21M486.57,619.21V625.11M489.22,623.64H489.87M493.87,623.64H494.53M491.87,616.14V621.64M491.87,625.64V631.15M494.53,641.1H495.18M499.18,641.1H499.83M497.18,634.75V639.1M497.18,643.1V647.45M499.83,651.93H500.49M504.49,651.93H505.14M502.49,646.42V649.93M502.49,653.93V657.44M505.14,656.53H505.79M509.79,656.53H510.44M507.79,651.41V654.53M507.79,658.53V661.64M510.44,666.63H511.1M515.1,666.63H515.75M513.1,662.52V664.63M513.1,668.63V670.74M515.75,672.32H516.4M520.4,672.32H521.06M518.4,668.91V670.32M518.4,674.32V675.74M521.06,676.18H521.71M525.71,676.18H526.36M523.71,673.34V674.18M523.71,678.18V679.03M526.36,670.12H527.01M531.01,670.12H531.67M529.01,666.42V668.12M529.01,672.12V673.82M531.67,677.74H532.32M536.32,677.74H536.97M534.32,675.16V675.74M534.32,679.74V680.33M536.97,678.11H537.63M541.63,678.11H542.28M539.63,675.6V676.11M539.63,680.11V680.63M542.28,679.4H542.93M546.93,679.4H547.59M544.93,677.13V677.4M544.93,681.4V681.67M547.59,681.97H548.24M552.24,681.97H552.89M550.24,680.3V679.97M550.24,683.97V683.64M558.2,681.33H558.85M562.85,681.33H563.5M560.85,679.49V679.33M560.85,683.33V683.16M563.5,683.81H564.16M568.16,683.81H568.81M566.16,682.76V681.81M566.16,685.81V684.85M568.81,682.24H569.46M573.46,682.24H574.12M571.46,680.65V680.24M571.46,684.24V683.84M579.42,683.81H580.08M584.08,683.81H584.73M582.08,682.76V681.81M582.08,685.81V684.85M595.34,683.81H595.99M599.99,683.81H600.65M597.99,682.76V681.81M597.99,685.81V684.85M611.26,683.81H611.91M615.91,683.81H616.56M613.91,682.76V681.81M613.91,685.81V684.85" stroke="#1a1a1a" stroke-width="1.2" fill="none"/>
<g fill="#fff" stroke="#000" stroke-width="1.15"><circle cx="385.75" cy="682.24" r="2.0"/><circle cx="391.06" cy="668.56" r="2.0"/><circle cx="396.37" cy="669.57" r="2.0"/><circle cx="401.67" cy="651.02" r="2.0"/><circle cx="406.98" cy="638.43" r="2.0"/><circle cx="412.28" cy="617.95" r="2.0"/><circle cx="417.59" cy="617.03" r="2.0"/><circle cx="422.9" cy="581.21" r="2.0"/><circle cx="428.2" cy="562.84" r="2.0"/><circle cx="433.51" cy="548.14" r="2.0"/><circle cx="438.81" cy="524.26" r="2.0"/><circle cx="444.12" cy="524.26" r="2.0"/><circle cx="449.43" cy="538.96" r="2.0"/><circle cx="454.73" cy="545.39" r="2.0"/><circle cx="460.04" cy="555.49" r="2.0"/><circle cx="465.34" cy="580.29" r="2.0"/><circle cx="470.65" cy="578.45" r="2.0"/><circle cx="475.95" cy="587.64" r="2.0"/><circle cx="481.26" cy="601.42" r="2.0"/><circle cx="486.57" cy="617.21" r="2.0"/><circle cx="491.87" cy="623.64" r="2.0"/><circle cx="497.18" cy="641.1" r="2.0"/><circle cx="502.49" cy="651.93" r="2.0"/><circle cx="507.79" cy="656.53" r="2.0"/><circle cx="513.1" cy="666.63" r="2.0"/><circle cx="518.4" cy="672.32" r="2.0"/><circle cx="523.71" cy="676.18" r="2.0"/><circle cx="529.01" cy="670.12" r="2.0"/><circle cx="534.32" cy="677.74" r="2.0"/><circle cx="539.63" cy="678.11" r="2.0"/><circle cx="544.93" cy="679.4" r="2.0"/><circle cx="550.24" cy="681.97" r="2.0"/><circle cx="560.85" cy="681.33" r="2.0"/><circle cx="566.16" cy="683.81" r="2.0"/><circle cx="571.46" cy="682.24" r="2.0"/><circle cx="582.08" cy="683.81" r="2.0"/><circle cx="597.99" cy="683.81" r="2.0"/><circle cx="613.91" cy="683.81" r="2.0"/></g>
<g fill="#000"><circle cx="401.67" cy="684.54" r="2.4"/><circle cx="406.98" cy="684.54" r="2.4"/><circle cx="412.28" cy="682.7" r="2.4"/><circle cx="417.59" cy="684.54" r="2.4"/><circle cx="438.81" cy="683.62" r="2.4"/><circle cx="444.12" cy="683.62" r="2.4"/><circle cx="449.43" cy="684.08" r="2.4"/><circle cx="460.04" cy="684.08" r="2.4"/><circle cx="465.34" cy="684.08" r="2.4"/><circle cx="470.65" cy="684.54" r="2.4"/><circle cx="475.95" cy="684.08" r="2.4"/><circle cx="486.57" cy="684.08" r="2.4"/><circle cx="497.18" cy="684.54" r="2.4"/><circle cx="502.49" cy="684.54" r="2.4"/></g>
<rect x="383.1" y="494.5" width="265.3" height="190.5" fill="none" stroke="#000" stroke-width="1.3"/>
<text transform="translate(383.1,698.5) scale(0.9,1)" text-anchor="middle" font-size="10.2">0</text>
<text transform="translate(409.63,698.5) scale(0.9,1)" text-anchor="middle" font-size="10.2">20</text>
<text transform="translate(436.16,698.5) scale(0.9,1)" text-anchor="middle" font-size="10.2">40</text>
<text transform="translate(462.69,698.5) scale(0.9,1)" text-anchor="middle" font-size="10.2">60</text>
<text transform="translate(489.22,698.5) scale(0.9,1)" text-anchor="middle" font-size="10.2">80</text>
<text transform="translate(515.75,698.5) scale(0.9,1)" text-anchor="middle" font-size="10.2">100</text>
<text transform="translate(542.28,698.5) scale(0.9,1)" text-anchor="middle" font-size="10.2">120</text>
<text transform="translate(568.81,698.5) scale(0.9,1)" text-anchor="middle" font-size="10.2">140</text>
<text transform="translate(595.34,698.5) scale(0.9,1)" text-anchor="middle" font-size="10.2">160</text>
<text transform="translate(621.87,698.5) scale(0.9,1)" text-anchor="middle" font-size="10.2">180</text>
<text transform="translate(648.4,698.5) scale(0.9,1)" text-anchor="middle" font-size="10.2">200</text>
<text transform="translate(378.1,688.7) scale(0.9,1)" text-anchor="end" font-size="10.2">0</text>
<text transform="translate(378.1,670.33) scale(0.9,1)" text-anchor="end" font-size="10.2">20</text>
<text transform="translate(378.1,651.96) scale(0.9,1)" text-anchor="end" font-size="10.2">40</text>
<text transform="translate(378.1,633.59) scale(0.9,1)" text-anchor="end" font-size="10.2">60</text>
<text transform="translate(378.1,615.22) scale(0.9,1)" text-anchor="end" font-size="10.2">80</text>
<text transform="translate(378.1,596.85) scale(0.9,1)" text-anchor="end" font-size="10.2">100</text>
<text transform="translate(378.1,578.48) scale(0.9,1)" text-anchor="end" font-size="10.2">120</text>
<text transform="translate(378.1,560.11) scale(0.9,1)" text-anchor="end" font-size="10.2">140</text>
<text transform="translate(378.1,541.74) scale(0.9,1)" text-anchor="end" font-size="10.2">160</text>
<text transform="translate(378.1,523.37) scale(0.9,1)" text-anchor="end" font-size="10.2">180</text>
<text transform="translate(378.1,505) scale(0.9,1)" text-anchor="end" font-size="10.2">200</text>
<text transform="translate(347.8,550.5) rotate(-90)" font-size="12.1" textLength="54.8" lengthAdjust="spacingAndGlyphs">Events / 4</text>
<text x="626.6" y="718.6" font-size="12.0" font-style="italic">N</text><text x="637.0" y="712.6" font-size="8.6">PV</text><text x="636.6" y="722.7" font-size="8.6">trk</text>
<text x="542.3" y="510.6" font-size="11.3" font-weight="bold" font-style="italic" textLength="37.4" lengthAdjust="spacingAndGlyphs">ATLAS</text>
<path d="M543.4,526.5l1.3,-0.6l1.7,6.0l1.4,-9.9h5.2" fill="none" stroke="#000" stroke-width="1.05"/>
<text x="548.2" y="531.9" font-size="11.4" textLength="81.8" lengthAdjust="spacingAndGlyphs">s=8 TeV, 20.3 fb</text>
<text x="630.2" y="527.1" font-size="7.6">-1</text>
<path d="M539.4,553.5h17.8M539.4,562.7h17.8" stroke="#444" stroke-width="1.1"/><circle cx="548.3" cy="553.5" r="2.1" fill="#888" stroke="#333" stroke-width="0.9"/><circle cx="548.3" cy="562.7" r="2.2" fill="#000"/><rect x="539.4" y="568.5" width="17.8" height="6.6" fill="#cdcdcd"/><rect x="539.4" y="577.5" width="17.8" height="6.6" fill="#a0a0a0"/><g font-size="7.6" fill="#1a1a1a" stroke="#1a1a1a" stroke-width="0.22"><text x="560" y="556.2">SB data (loose)</text><text x="560" y="565.4">SB data (tight+<tspan font-style="italic">x</tspan>&gt;<tspan font-style="italic">x</tspan><tspan dy="1.8" font-size="5">0</tspan><tspan dy="-1.8">)</tspan></text><text x="560" y="574.4">Signal (loose)</text><text x="560" y="583.4">Signal (tight+<tspan font-style="italic">x</tspan>&gt;<tspan font-style="italic">x</tspan><tspan dy="1.8" font-size="5">0</tspan><tspan dy="-1.8">)</tspan></text></g>
<text x="592.2" y="637.2" font-family='"Liberation Serif", serif' font-weight="bold" font-size="14">(f)</text>
<path d="M46.8,930.4 L46.8,930.4 L51.23,930.4 L51.23,930.4 L55.66,930.4 L55.66,930.4 L60.08,930.4 L60.08,930.4 L64.51,930.4 L64.51,930.4 L68.94,930.4 L68.94,930.4 L73.37,930.4 L73.37,930.4 L77.8,930.4 L77.8,928.11 L82.23,928.11 L82.23,913.2 L86.66,913.2 L86.66,862.98 L91.08,862.98 L91.08,784.44 L95.51,784.44 L95.51,760.82 L99.94,760.82 L99.94,784.9 L104.37,784.9 L104.37,805.99 L108.8,805.99 L108.8,830.07 L113.22,830.07 L113.22,850.14 L117.65,850.14 L117.65,862.98 L122.08,862.98 L122.08,878 L126.51,878 L126.51,889.01 L130.94,889.01 L130.94,891.01 L135.37,891.01 L135.37,894 L139.79,894 L139.79,901.74 L144.22,901.74 L144.22,902.88 L148.65,902.88 L148.65,908.04 L153.08,908.04 L153.08,910.33 L157.51,910.33 L157.51,912.63 L161.94,912.63 L161.94,919.51 L166.37,919.51 L166.37,920.08 L170.79,920.08 L170.79,921.8 L175.22,921.8 L175.22,922.37 L179.65,922.37 L179.65,924.09 L184.08,924.09 L184.08,924.67 L188.51,924.67 L188.51,925.47 L192.94,925.47 L192.94,926.21 L197.36,926.21 L197.36,926.67 L201.79,926.67 L201.79,926.96 L206.22,926.96 L206.22,927.25 L210.65,927.25 L210.65,927.53 L215.08,927.53 L215.08,927.82 L219.5,927.82 L219.5,928.11 L223.93,928.11 L223.93,928.22 L228.36,928.22 L228.36,928.39 L232.79,928.39 L232.79,928.57 L237.22,928.57 L237.22,928.68 L241.65,928.68 L241.65,928.79 L246.07,928.79 L246.07,928.91 L250.5,928.91 L250.5,929.02 L254.93,929.02 L254.93,929.14 L259.36,929.14 L259.36,929.25 L263.79,929.25 L263.79,929.37 L268.22,929.37 L268.22,929.48 L272.64,929.48 L272.64,929.54 L277.07,929.54 L277.07,929.6 L281.5,929.6 L281.5,929.65 L285.93,929.65 L285.93,929.71 L290.36,929.71 L290.36,929.77 L294.79,929.77 L294.79,929.83 L299.21,929.83 L299.21,929.83 L303.64,929.83 L303.64,929.83 L308.07,929.83 L308.07,929.83 L312.5,929.83 L312.5,930.4Z" fill="#cdcdcd"/>
<path d="M46.8,930.4 L46.8,930.4 L51.23,930.4 L51.23,930.4 L55.66,930.4 L55.66,930.4 L60.08,930.4 L60.08,930.4 L64.51,930.4 L64.51,930.4 L68.94,930.4 L68.94,930.4 L73.37,930.4 L73.37,930.4 L77.8,930.4 L77.8,930.4 L82.23,930.4 L82.23,930.4 L86.66,930.4 L86.66,930.4 L91.08,930.4 L91.08,930.4 L95.51,930.4 L95.51,839.02 L99.94,839.02 L99.94,857.99 L104.37,857.99 L104.37,868.02 L108.8,868.02 L108.8,882.01 L113.22,882.01 L113.22,887.98 L117.65,887.98 L117.65,896 L122.08,896 L122.08,904.03 L126.51,904.03 L126.51,908.04 L130.94,908.04 L130.94,909.99 L135.37,909.99 L135.37,911.02 L139.79,911.02 L139.79,914 L144.22,914 L144.22,916.98 L148.65,916.98 L148.65,918.59 L153.08,918.59 L153.08,920.88 L157.51,920.88 L157.51,922.95 L161.94,922.95 L161.94,924.67 L166.37,924.67 L166.37,925.47 L170.79,925.47 L170.79,926.39 L175.22,926.39 L175.22,926.67 L179.65,926.67 L179.65,926.96 L184.08,926.96 L184.08,927.25 L188.51,927.25 L188.51,927.53 L192.94,927.53 L192.94,927.71 L197.36,927.71 L197.36,927.88 L201.79,927.88 L201.79,928.11 L206.22,928.11 L206.22,928.28 L210.65,928.28 L210.65,928.45 L215.08,928.45 L215.08,928.62 L219.5,928.62 L219.5,928.79 L223.93,928.79 L223.93,928.91 L228.36,928.91 L228.36,929.02 L232.79,929.02 L232.79,929.14 L237.22,929.14 L237.22,929.25 L241.65,929.25 L241.65,929.37 L246.07,929.37 L246.07,929.48 L250.5,929.48 L250.5,929.54 L254.93,929.54 L254.93,929.6 L259.36,929.6 L259.36,929.65 L263.79,929.65 L263.79,929.71 L268.22,929.71 L268.22,929.77 L272.64,929.77 L272.64,929.83 L277.07,929.83 L277.07,929.83 L281.5,929.83 L281.5,929.88 L285.93,929.88 L285.93,929.94 L290.36,929.94 L290.36,930 L294.79,930 L294.79,930 L299.21,930 L299.21,930.06 L303.64,930.06 L303.64,930.06 L308.07,930.06 L308.07,930.11 L312.5,930.11 L312.5,930.4Z" fill="#a0a0a0"/>
<path d="M46.8,930.4v-2.9M46.8,740.1v2.9M55.66,930.4v-2.9M55.66,740.1v2.9M64.51,930.4v-2.9M64.51,740.1v2.9M73.37,930.4v-2.9M73.37,740.1v2.9M82.23,930.4v-2.9M82.23,740.1v2.9M91.08,930.4v-2.9M91.08,740.1v2.9M99.94,930.4v-2.9M99.94,740.1v2.9M108.8,930.4v-2.9M108.8,740.1v2.9M117.65,930.4v-2.9M117.65,740.1v2.9M126.51,930.4v-2.9M126.51,740.1v2.9M135.37,930.4v-2.9M135.37,740.1v2.9M144.22,930.4v-2.9M144.22,740.1v2.9M153.08,930.4v-2.9M153.08,740.1v2.9M161.94,930.4v-2.9M161.94,740.1v2.9M170.79,930.4v-2.9M170.79,740.1v2.9M179.65,930.4v-2.9M179.65,740.1v2.9M188.51,930.4v-2.9M188.51,740.1v2.9M197.36,930.4v-2.9M197.36,740.1v2.9M206.22,930.4v-2.9M206.22,740.1v2.9M215.08,930.4v-2.9M215.08,740.1v2.9M223.93,930.4v-2.9M223.93,740.1v2.9M232.79,930.4v-2.9M232.79,740.1v2.9M241.65,930.4v-2.9M241.65,740.1v2.9M250.5,930.4v-2.9M250.5,740.1v2.9M259.36,930.4v-2.9M259.36,740.1v2.9M268.22,930.4v-2.9M268.22,740.1v2.9M277.07,930.4v-2.9M277.07,740.1v2.9M285.93,930.4v-2.9M285.93,740.1v2.9M294.79,930.4v-2.9M294.79,740.1v2.9M303.64,930.4v-2.9M303.64,740.1v2.9M312.5,930.4v-2.9M312.5,740.1v2.9M46.8,930.4v-5.7M46.8,740.1v5.7M91.08,930.4v-5.7M91.08,740.1v5.7M135.37,930.4v-5.7M135.37,740.1v5.7M179.65,930.4v-5.7M179.65,740.1v5.7M223.93,930.4v-5.7M223.93,740.1v5.7M268.22,930.4v-5.7M268.22,740.1v5.7M312.5,930.4v-5.7M312.5,740.1v5.7M46.8,930.4h4.0M312.5,930.4h-4.0M46.8,924.67h4.0M312.5,924.67h-4.0M46.8,918.93h4.0M312.5,918.93h-4.0M46.8,913.2h4.0M312.5,913.2h-4.0M46.8,907.47h4.0M312.5,907.47h-4.0M46.8,901.74h4.0M312.5,901.74h-4.0M46.8,896h4.0M312.5,896h-4.0M46.8,890.27h4.0M312.5,890.27h-4.0M46.8,884.54h4.0M312.5,884.54h-4.0M46.8,878.8h4.0M312.5,878.8h-4.0M46.8,873.07h4.0M312.5,873.07h-4.0M46.8,867.34h4.0M312.5,867.34h-4.0M46.8,861.6h4.0M312.5,861.6h-4.0M46.8,855.87h4.0M312.5,855.87h-4.0M46.8,850.14h4.0M312.5,850.14h-4.0M46.8,844.4h4.0M312.5,844.4h-4.0M46.8,838.67h4.0M312.5,838.67h-4.0M46.8,832.94h4.0M312.5,832.94h-4.0M46.8,827.21h4.0M312.5,827.21h-4.0M46.8,821.47h4.0M312.5,821.47h-4.0M46.8,815.74h4.0M312.5,815.74h-4.0M46.8,810.01h4.0M312.5,810.01h-4.0M46.8,804.27h4.0M312.5,804.27h-4.0M46.8,798.54h4.0M312.5,798.54h-4.0M46.8,792.81h4.0M312.5,792.81h-4.0M46.8,787.07h4.0M312.5,787.07h-4.0M46.8,781.34h4.0M312.5,781.34h-4.0M46.8,775.61h4.0M312.5,775.61h-4.0M46.8,769.88h4.0M312.5,769.88h-4.0M46.8,764.14h4.0M312.5,764.14h-4.0M46.8,758.41h4.0M312.5,758.41h-4.0M46.8,752.68h4.0M312.5,752.68h-4.0M46.8,746.94h4.0M312.5,746.94h-4.0M46.8,741.21h4.0M312.5,741.21h-4.0M46.8,930.4h8.0M312.5,930.4h-8.0M46.8,901.74h8.0M312.5,901.74h-8.0M46.8,873.07h8.0M312.5,873.07h-8.0M46.8,844.4h8.0M312.5,844.4h-8.0M46.8,815.74h8.0M312.5,815.74h-8.0M46.8,787.07h8.0M312.5,787.07h-8.0M46.8,758.41h8.0M312.5,758.41h-8.0" stroke="#000" stroke-width="1" fill="none"/>
<path d="M46.8,929.08H47.01M51.01,929.08H51.23M49.01,928.21V927.08M49.01,931.08V929.95M51.23,928.68H51.44M55.44,928.68H55.66M53.44,927.69V926.68M53.44,930.68V929.67M55.66,928.68H55.87M59.87,928.68H60.08M57.87,927.69V926.68M57.87,930.68V929.67M60.09,928.22H60.3M64.3,928.22H64.51M62.3,927.1V926.22M62.3,930.22V929.34M64.51,925.93H64.73M68.73,925.93H68.94M66.73,924.33V923.93M66.73,927.93V927.53M68.94,925.3H69.16M73.16,925.3H73.37M71.16,923.59V923.3M71.16,927.3V927.01M73.37,921.8H73.58M77.58,921.8H77.8M75.58,919.58V919.8M75.58,923.8V924.02M77.8,916.93H78.01M82.01,916.93H82.23M80.01,914.15V914.93M80.01,918.93V919.71M82.23,881.67H82.44M86.44,881.67H86.66M84.44,876.38V879.67M84.44,883.67V886.96M86.65,803.13H86.87M90.87,803.13H91.08M88.87,794.59V801.13M88.87,805.13V811.67M91.08,781.34H91.3M95.3,781.34H95.51M93.3,772.1V779.34M93.3,783.34V790.59M95.51,810.01H95.73M99.73,810.01H99.94M97.73,801.7V808.01M97.73,812.01V818.31M99.94,850.14H100.15M104.15,850.14H104.37M102.15,843.35V848.14M102.15,852.14V856.92M104.37,865.62H104.58M108.58,865.62H108.8M106.58,859.52V863.62M106.58,867.62V871.71M108.8,866.19H109.01M113.01,866.19H113.22M111.01,860.12V864.19M111.01,868.19V872.26M113.22,876.51H113.44M117.44,876.51H117.65M115.44,870.95V874.51M115.44,878.51V882.07M117.65,879.95H117.87M121.87,879.95H122.08M119.87,874.57V877.95M119.87,881.95V885.33M122.08,883.96H122.3M126.3,883.96H126.51M124.3,878.8V881.96M124.3,885.96V889.12M126.51,892.56H126.72M130.72,892.56H130.94M128.72,887.9V890.56M128.72,894.56V897.22M130.94,897.72H131.15M135.15,897.72H135.37M133.15,893.39V895.72M133.15,899.72V902.05M135.37,898.52H135.58M139.58,898.52H139.79M137.58,894.25V896.52M137.58,900.52V902.8M139.79,898.52H140.01M144.01,898.52H144.22M142.01,894.25V896.52M142.01,900.52V902.8M144.22,903.68H144.44M148.44,903.68H148.65M146.44,899.77V901.68M146.44,905.68V907.6M148.65,908.21H148.87M152.87,908.21H153.08M150.87,904.65V906.21M150.87,910.21V911.78M153.08,912.51H153.29M157.29,912.51H157.51M155.29,909.31V910.51M155.29,914.51V915.72M157.51,907.93H157.72M161.72,907.93H161.94M159.72,904.34V905.93M159.72,909.93V911.52M161.94,913.72H162.15M166.15,913.72H166.36M164.15,910.62V911.72M164.15,915.72V916.81M166.36,914.81H166.58M170.58,914.81H170.79M168.58,911.82V912.81M168.58,916.81V917.8M170.79,919.39H171.01M175.01,919.39H175.22M173.01,916.88V917.39M173.01,921.39V921.9M175.22,915.9H175.44M179.44,915.9H179.65M177.44,913.01V913.9M177.44,917.9V918.78M179.65,917.5H179.86M183.86,917.5H184.08M181.86,914.78V915.5M181.86,919.5V920.22M184.08,923.58H184.29M188.29,923.58H188.51M186.29,921.6V921.58M186.29,925.58V925.56M188.51,918.59H188.72M192.72,918.59H192.93M190.72,915.99V916.59M190.72,920.59V921.19M192.93,917.1H193.15M197.15,917.1H197.36M195.15,914.34V915.1M195.15,919.1V919.86M197.36,922.72H197.58M201.58,922.72H201.79M199.58,920.62V920.72M199.58,924.72V924.82M201.79,919.39H202.01M206.01,919.39H206.22M204.01,916.88V917.39M204.01,921.39V921.9M206.22,923.18H206.43M210.43,923.18H210.65M208.43,921.14V921.18M208.43,925.18V925.21M210.65,920.08H210.86M214.86,920.08H215.08M212.86,917.65V918.08M212.86,922.08V922.51M215.08,920.6H215.29M219.29,920.6H219.51M217.29,918.23V918.6M217.29,922.6V922.97M219.5,924.38H219.72M223.72,924.38H223.93M221.72,922.52V922.38M221.72,926.38V926.24M223.93,924.67H224.15M228.15,924.67H228.36M226.15,922.85V922.67M226.15,926.67V926.48M228.36,924.67H228.58M232.58,924.67H232.79M230.58,922.85V922.67M230.58,926.67V926.48M232.79,925.24H233M237,925.24H237.22M235,923.52V923.24M235,927.24V926.96M237.22,926.1H237.43M241.43,926.1H241.65M239.43,924.53V924.1M239.43,928.1V927.67M241.65,926.1H241.86M245.86,926.1H246.08M243.86,924.53V924.1M243.86,928.1V927.67M246.07,923.41H246.29M250.29,923.41H250.5M248.29,921.4V921.41M248.29,925.41V925.41M250.5,927.13H250.72M254.72,927.13H254.93M252.72,925.76V925.13M252.72,929.13V928.5M254.93,928.51H255.15M259.15,928.51H259.36M257.15,927.47V926.51M257.15,930.51V929.55M259.36,927.13H259.57M263.57,927.13H263.79M261.57,925.76V925.13M261.57,929.13V928.5M263.79,930H264M268,930H268.22M266,929.52V928M266,932V930.4M268.22,927.13H268.43M272.43,927.13H272.64M270.43,925.76V925.13M270.43,929.13V928.5M272.64,925.58H272.86M276.86,925.58H277.07M274.86,923.92V923.58M274.86,927.58V927.25M277.07,927.53H277.29M281.29,927.53H281.5M279.29,926.25V925.53M279.29,929.53V928.82M285.93,928.51H286.14M290.14,928.51H290.36M288.14,927.47V926.51M288.14,930.51V929.55M290.36,928.11H290.57M294.57,928.11H294.79M292.57,926.96V926.11M292.57,930.11V929.25M294.79,927.82H295M299,927.82H299.21M297,926.6V925.82M297,929.82V929.04M299.22,927.13H299.43M303.43,927.13H303.64M301.43,925.76V925.13M301.43,929.13V928.5M303.64,930H303.86M307.86,930H308.07M305.86,929.52V928M305.86,932V930.4M308.07,928.11H308.29M312.29,928.11H312.5M310.29,926.96V926.11M310.29,930.11V929.25" stroke="#1a1a1a" stroke-width="1.2" fill="none"/>
<g fill="#fff" stroke="#000" stroke-width="1.15"><circle cx="49.01" cy="929.08" r="2.0"/><circle cx="53.44" cy="928.68" r="2.0"/><circle cx="57.87" cy="928.68" r="2.0"/><circle cx="62.3" cy="928.22" r="2.0"/><circle cx="66.73" cy="925.93" r="2.0"/><circle cx="71.16" cy="925.3" r="2.0"/><circle cx="75.58" cy="921.8" r="2.0"/><circle cx="80.01" cy="916.93" r="2.0"/><circle cx="84.44" cy="881.67" r="2.0"/><circle cx="88.87" cy="803.13" r="2.0"/><circle cx="93.3" cy="781.34" r="2.0"/><circle cx="97.73" cy="810.01" r="2.0"/><circle cx="102.15" cy="850.14" r="2.0"/><circle cx="106.58" cy="865.62" r="2.0"/><circle cx="111.01" cy="866.19" r="2.0"/><circle cx="115.44" cy="876.51" r="2.0"/><circle cx="119.87" cy="879.95" r="2.0"/><circle cx="124.3" cy="883.96" r="2.0"/><circle cx="128.72" cy="892.56" r="2.0"/><circle cx="133.15" cy="897.72" r="2.0"/><circle cx="137.58" cy="898.52" r="2.0"/><circle cx="142.01" cy="898.52" r="2.0"/><circle cx="146.44" cy="903.68" r="2.0"/><circle cx="150.87" cy="908.21" r="2.0"/><circle cx="155.29" cy="912.51" r="2.0"/><circle cx="159.72" cy="907.93" r="2.0"/><circle cx="164.15" cy="913.72" r="2.0"/><circle cx="168.58" cy="914.81" r="2.0"/><circle cx="173.01" cy="919.39" r="2.0"/><circle cx="177.44" cy="915.9" r="2.0"/><circle cx="181.86" cy="917.5" r="2.0"/><circle cx="186.29" cy="923.58" r="2.0"/><circle cx="190.72" cy="918.59" r="2.0"/><circle cx="195.15" cy="917.1" r="2.0"/><circle cx="199.58" cy="922.72" r="2.0"/><circle cx="204.01" cy="919.39" r="2.0"/><circle cx="208.43" cy="923.18" r="2.0"/><circle cx="212.86" cy="920.08" r="2.0"/><circle cx="217.29" cy="920.6" r="2.0"/><circle cx="221.72" cy="924.38" r="2.0"/><circle cx="226.15" cy="924.67" r="2.0"/><circle cx="230.58" cy="924.67" r="2.0"/><circle cx="235" cy="925.24" r="2.0"/><circle cx="239.43" cy="926.1" r="2.0"/><circle cx="243.86" cy="926.1" r="2.0"/><circle cx="248.29" cy="923.41" r="2.0"/><circle cx="252.72" cy="927.13" r="2.0"/><circle cx="257.15" cy="928.51" r="2.0"/><circle cx="261.57" cy="927.13" r="2.0"/><circle cx="266" cy="930" r="2.0"/><circle cx="270.43" cy="927.13" r="2.0"/><circle cx="274.86" cy="925.58" r="2.0"/><circle cx="279.29" cy="927.53" r="2.0"/><circle cx="288.14" cy="928.51" r="2.0"/><circle cx="292.57" cy="928.11" r="2.0"/><circle cx="297" cy="927.82" r="2.0"/><circle cx="301.43" cy="927.13" r="2.0"/><circle cx="305.86" cy="930" r="2.0"/><circle cx="310.29" cy="928.11" r="2.0"/></g>
<g fill="#000"><circle cx="97.73" cy="928.11" r="2.4"/><circle cx="102.15" cy="928.68" r="2.4"/><circle cx="106.58" cy="928.97" r="2.4"/><circle cx="111.01" cy="929.25" r="2.4"/><circle cx="115.44" cy="929.83" r="2.4"/><circle cx="128.72" cy="929.83" r="2.4"/><circle cx="137.58" cy="930.11" r="2.4"/><circle cx="142.01" cy="930.11" r="2.4"/><circle cx="146.44" cy="930.11" r="2.4"/><circle cx="164.15" cy="930.11" r="2.4"/><circle cx="168.58" cy="930.11" r="2.4"/><circle cx="177.44" cy="930.11" r="2.4"/><circle cx="186.29" cy="930.11" r="2.4"/><circle cx="217.29" cy="930.11" r="2.4"/><circle cx="252.72" cy="930.11" r="2.4"/><circle cx="301.43" cy="930.11" r="2.4"/></g>
<rect x="46.8" y="740.1" width="265.7" height="190.3" fill="none" stroke="#000" stroke-width="1.3"/>
<text transform="translate(46.8,943.9) scale(0.9,1)" text-anchor="middle" font-size="10.2">−10</text>
<text transform="translate(91.08,943.9) scale(0.9,1)" text-anchor="middle" font-size="10.2">0</text>
<text transform="translate(135.37,943.9) scale(0.9,1)" text-anchor="middle" font-size="10.2">10</text>
<text transform="translate(179.65,943.9) scale(0.9,1)" text-anchor="middle" font-size="10.2">20</text>
<text transform="translate(223.93,943.9) scale(0.9,1)" text-anchor="middle" font-size="10.2">30</text>
<text transform="translate(268.22,943.9) scale(0.9,1)" text-anchor="middle" font-size="10.2">40</text>
<text transform="translate(312.5,943.9) scale(0.9,1)" text-anchor="middle" font-size="10.2">50</text>
<text transform="translate(41,934.1) scale(0.9,1)" text-anchor="end" font-size="10.2">0</text>
<text transform="translate(41,905.44) scale(0.9,1)" text-anchor="end" font-size="10.2">50</text>
<text transform="translate(41,876.77) scale(0.9,1)" text-anchor="end" font-size="10.2">100</text>
<text transform="translate(41,848.11) scale(0.9,1)" text-anchor="end" font-size="10.2">150</text>
<text transform="translate(41,819.44) scale(0.9,1)" text-anchor="end" font-size="10.2">200</text>
<text transform="translate(41,790.77) scale(0.9,1)" text-anchor="end" font-size="10.2">250</text>
<text transform="translate(41,762.11) scale(0.9,1)" text-anchor="end" font-size="10.2">300</text>
<text transform="translate(12.2,794) rotate(-90)" font-size="12.1" textLength="53.9" lengthAdjust="spacingAndGlyphs">Events / 1</text>
<text x="281.2" y="962.5" font-size="12.0">S</text><text x="289.4" y="962.5" font-size="12.0">(</text><text x="293.1" y="962.5" font-size="12.0" font-style="italic">L</text><text x="299.8" y="964.9" font-size="8.6">xy</text><text x="309.3" y="962.5" font-size="12.0">)</text>
<text x="206" y="756.2" font-size="11.3" font-weight="bold" font-style="italic" textLength="37.4" lengthAdjust="spacingAndGlyphs">ATLAS</text>
<path d="M207.1,772.1l1.3,-0.6l1.7,6.0l1.4,-9.9h5.2" fill="none" stroke="#000" stroke-width="1.05"/>
<text x="211.9" y="777.5" font-size="11.4" textLength="81.8" lengthAdjust="spacingAndGlyphs">s=8 TeV, 20.3 fb</text>
<text x="293.9" y="772.7" font-size="7.6">-1</text>
<path d="M203.1,799.1h17.8M203.1,808.3h17.8" stroke="#444" stroke-width="1.1"/><circle cx="212" cy="799.1" r="2.1" fill="#888" stroke="#333" stroke-width="0.9"/><circle cx="212" cy="808.3" r="2.2" fill="#000"/><rect x="203.1" y="814.1" width="17.8" height="6.6" fill="#cdcdcd"/><rect x="203.1" y="823.1" width="17.8" height="6.6" fill="#a0a0a0"/><g font-size="7.6" fill="#1a1a1a" stroke="#1a1a1a" stroke-width="0.22"><text x="223.7" y="801.8">SB data (loose)</text><text x="223.7" y="811">SB data (tight+<tspan font-style="italic">x</tspan>&gt;<tspan font-style="italic">x</tspan><tspan dy="1.8" font-size="5">0</tspan><tspan dy="-1.8">)</tspan></text><text x="223.7" y="820">Signal (loose)</text><text x="223.7" y="829">Signal (tight+<tspan font-style="italic">x</tspan>&gt;<tspan font-style="italic">x</tspan><tspan dy="1.8" font-size="5">0</tspan><tspan dy="-1.8">)</tspan></text></g>
<text x="256.4" y="882.4" font-family='"Liberation Serif", serif' font-weight="bold" font-size="14">(g)</text>
<path d="M383.1,930.4 L383.1,930.4 L387.52,930.4 L387.52,930.4 L391.94,930.4 L391.94,924.2 L396.37,924.2 L396.37,908.2 L400.79,908.2 L400.79,866.03 L405.21,866.03 L405.21,812.9 L409.63,812.9 L409.63,776.99 L414.05,776.99 L414.05,761 L418.47,761 L418.47,772.03 L422.9,772.03 L422.9,792.01 L427.32,792.01 L427.32,827.58 L431.74,827.58 L431.74,851.02 L436.16,851.02 L436.16,861.99 L440.58,861.99 L440.58,873.02 L445,873.02 L445,883.01 L449.43,883.01 L449.43,893.97 L453.85,893.97 L453.85,899.98 L458.27,899.98 L458.27,904.03 L462.69,904.03 L462.69,909.18 L467.11,909.18 L467.11,911.21 L471.53,911.21 L471.53,912.19 L475.96,912.19 L475.96,917.34 L480.38,917.34 L480.38,919.82 L484.8,919.82 L484.8,919.11 L489.22,919.11 L489.22,921.39 L493.64,921.39 L493.64,923.68 L498.06,923.68 L498.06,924.13 L502.49,924.13 L502.49,924.39 L506.91,924.39 L506.91,925.18 L511.33,925.18 L511.33,926.03 L515.75,926.03 L515.75,926.42 L520.17,926.42 L520.17,926.68 L524.59,926.68 L524.59,927.53 L529.01,927.53 L529.01,927.79 L533.44,927.79 L533.44,928.05 L537.86,928.05 L537.86,928.25 L542.28,928.25 L542.28,928.44 L546.7,928.44 L546.7,928.57 L551.12,928.57 L551.12,928.7 L555.54,928.7 L555.54,928.83 L559.97,928.83 L559.97,928.96 L564.39,928.96 L564.39,929.09 L568.81,929.09 L568.81,929.22 L573.23,929.22 L573.23,929.29 L577.65,929.29 L577.65,929.36 L582.08,929.36 L582.08,929.42 L586.5,929.42 L586.5,929.49 L590.92,929.49 L590.92,929.55 L595.34,929.55 L595.34,929.62 L599.76,929.62 L599.76,929.68 L604.18,929.68 L604.18,929.75 L608.61,929.75 L608.61,929.75 L613.03,929.75 L613.03,929.81 L617.45,929.81 L617.45,929.88 L621.87,929.88 L621.87,929.88 L626.29,929.88 L626.29,929.94 L630.71,929.94 L630.71,929.94 L635.13,929.94 L635.13,930.01 L639.56,930.01 L639.56,930.01 L643.98,930.01 L643.98,930.07 L648.4,930.07 L648.4,930.4Z" fill="#cdcdcd"/>
<path d="M383.1,930.4 L383.1,930.4 L387.52,930.4 L387.52,930.4 L391.94,930.4 L391.94,929.75 L396.37,929.75 L396.37,922.83 L400.79,922.83 L400.79,906.25 L405.21,906.25 L405.21,878.18 L409.63,878.18 L409.63,853.63 L414.05,853.63 L414.05,851.22 L418.47,851.22 L418.47,853.04 L422.9,853.04 L422.9,858.98 L427.32,858.98 L427.32,882.09 L431.74,882.09 L431.74,883.01 L436.16,883.01 L436.16,889.01 L440.58,889.01 L440.58,898.02 L445,898.02 L445,908.99 L449.43,908.99 L449.43,916.04 L453.85,916.04 L453.85,921 L458.27,921 L458.27,922.89 L462.69,922.89 L462.69,925.18 L467.11,925.18 L467.11,925.83 L471.53,925.83 L471.53,926.68 L475.96,926.68 L475.96,927.14 L480.38,927.14 L480.38,927.53 L484.8,927.53 L484.8,927.92 L489.22,927.92 L489.22,928.18 L493.64,928.18 L493.64,928.44 L498.06,928.44 L498.06,928.64 L502.49,928.64 L502.49,928.83 L506.91,928.83 L506.91,928.96 L511.33,928.96 L511.33,929.09 L515.75,929.09 L515.75,929.22 L520.17,929.22 L520.17,929.36 L524.59,929.36 L524.59,929.49 L529.01,929.49 L529.01,929.55 L533.44,929.55 L533.44,929.62 L537.86,929.62 L537.86,929.68 L542.28,929.68 L542.28,929.75 L546.7,929.75 L546.7,929.81 L551.12,929.81 L551.12,929.88 L555.54,929.88 L555.54,929.94 L559.97,929.94 L559.97,930.01 L564.39,930.01 L564.39,930.01 L568.81,930.01 L568.81,930.07 L573.23,930.07 L573.23,930.07 L577.65,930.07 L577.65,930.14 L582.08,930.14 L582.08,930.14 L586.5,930.14 L586.5,930.14 L590.92,930.14 L590.92,930.2 L595.34,930.2 L595.34,930.2 L599.76,930.2 L599.76,930.2 L604.18,930.2 L604.18,930.2 L608.61,930.2 L608.61,930.27 L613.03,930.27 L613.03,930.27 L617.45,930.27 L617.45,930.27 L621.87,930.27 L621.87,930.27 L626.29,930.27 L626.29,930.27 L630.71,930.27 L630.71,930.27 L635.13,930.27 L635.13,930.27 L639.56,930.27 L639.56,930.27 L643.98,930.27 L643.98,930.27 L648.4,930.27 L648.4,930.4Z" fill="#a0a0a0"/>
<path d="M383.1,930.4v-2.9M383.1,740.1v2.9M391.94,930.4v-2.9M391.94,740.1v2.9M400.79,930.4v-2.9M400.79,740.1v2.9M409.63,930.4v-2.9M409.63,740.1v2.9M418.47,930.4v-2.9M418.47,740.1v2.9M427.32,930.4v-2.9M427.32,740.1v2.9M436.16,930.4v-2.9M436.16,740.1v2.9M445,930.4v-2.9M445,740.1v2.9M453.85,930.4v-2.9M453.85,740.1v2.9M462.69,930.4v-2.9M462.69,740.1v2.9M471.53,930.4v-2.9M471.53,740.1v2.9M480.38,930.4v-2.9M480.38,740.1v2.9M489.22,930.4v-2.9M489.22,740.1v2.9M498.06,930.4v-2.9M498.06,740.1v2.9M506.91,930.4v-2.9M506.91,740.1v2.9M515.75,930.4v-2.9M515.75,740.1v2.9M524.59,930.4v-2.9M524.59,740.1v2.9M533.44,930.4v-2.9M533.44,740.1v2.9M542.28,930.4v-2.9M542.28,740.1v2.9M551.12,930.4v-2.9M551.12,740.1v2.9M559.97,930.4v-2.9M559.97,740.1v2.9M568.81,930.4v-2.9M568.81,740.1v2.9M577.65,930.4v-2.9M577.65,740.1v2.9M586.5,930.4v-2.9M586.5,740.1v2.9M595.34,930.4v-2.9M595.34,740.1v2.9M604.18,930.4v-2.9M604.18,740.1v2.9M613.03,930.4v-2.9M613.03,740.1v2.9M621.87,930.4v-2.9M621.87,740.1v2.9M630.71,930.4v-2.9M630.71,740.1v2.9M639.56,930.4v-2.9M639.56,740.1v2.9M648.4,930.4v-2.9M648.4,740.1v2.9M383.1,930.4v-5.7M383.1,740.1v5.7M427.32,930.4v-5.7M427.32,740.1v5.7M471.53,930.4v-5.7M471.53,740.1v5.7M515.75,930.4v-5.7M515.75,740.1v5.7M559.97,930.4v-5.7M559.97,740.1v5.7M604.18,930.4v-5.7M604.18,740.1v5.7M648.4,930.4v-5.7M648.4,740.1v5.7M383.1,930.4h4.0M648.4,930.4h-4.0M383.1,923.87h4.0M648.4,923.87h-4.0M383.1,917.34h4.0M648.4,917.34h-4.0M383.1,910.82h4.0M648.4,910.82h-4.0M383.1,904.29h4.0M648.4,904.29h-4.0M383.1,897.76h4.0M648.4,897.76h-4.0M383.1,891.23h4.0M648.4,891.23h-4.0M383.1,884.7h4.0M648.4,884.7h-4.0M383.1,878.18h4.0M648.4,878.18h-4.0M383.1,871.65h4.0M648.4,871.65h-4.0M383.1,865.12h4.0M648.4,865.12h-4.0M383.1,858.59h4.0M648.4,858.59h-4.0M383.1,852.06h4.0M648.4,852.06h-4.0M383.1,845.54h4.0M648.4,845.54h-4.0M383.1,839.01h4.0M648.4,839.01h-4.0M383.1,832.48h4.0M648.4,832.48h-4.0M383.1,825.95h4.0M648.4,825.95h-4.0M383.1,819.42h4.0M648.4,819.42h-4.0M383.1,812.9h4.0M648.4,812.9h-4.0M383.1,806.37h4.0M648.4,806.37h-4.0M383.1,799.84h4.0M648.4,799.84h-4.0M383.1,793.31h4.0M648.4,793.31h-4.0M383.1,786.78h4.0M648.4,786.78h-4.0M383.1,780.26h4.0M648.4,780.26h-4.0M383.1,773.73h4.0M648.4,773.73h-4.0M383.1,767.2h4.0M648.4,767.2h-4.0M383.1,760.67h4.0M648.4,760.67h-4.0M383.1,754.14h4.0M648.4,754.14h-4.0M383.1,747.62h4.0M648.4,747.62h-4.0M383.1,741.09h4.0M648.4,741.09h-4.0M383.1,930.4h8.0M648.4,930.4h-8.0M383.1,897.76h8.0M648.4,897.76h-8.0M383.1,865.12h8.0M648.4,865.12h-8.0M383.1,832.48h8.0M648.4,832.48h-8.0M383.1,799.84h8.0M648.4,799.84h-8.0M383.1,767.2h8.0M648.4,767.2h-8.0" stroke="#000" stroke-width="1" fill="none"/>
<path d="M391.94,927.98H392.15M396.15,927.98H396.37M394.15,926.73V925.98M394.15,929.98V929.24M396.37,916.04H396.58M400.58,916.04H400.79M398.58,912.98V914.04M398.58,918.04V919.1M400.79,896.58H401M405,896.58H405.21M403,891.89V894.58M403,898.58V901.28M405.21,869.04H405.42M409.42,869.04H409.63M407.42,862.71V867.04M407.42,871.04V875.37M409.63,865.38H409.84M413.84,865.38H414.05M411.84,858.87V863.38M411.84,867.38V871.9M414.05,835.74H414.26M418.26,835.74H418.47M416.26,827.88V833.74M416.26,837.74V843.6M418.47,842.4H418.68M422.68,842.4H422.89M420.68,834.82V840.4M420.68,844.4V849.98M422.9,846.97H423.11M427.11,846.97H427.32M425.11,839.59V844.97M425.11,848.97V854.35M427.32,842.4H427.53M431.53,842.4H431.74M429.53,834.82V840.4M429.53,844.4V849.98M431.74,850.11H431.95M435.95,850.11H436.16M433.95,842.87V848.11M433.95,852.11V857.35M436.16,864.01H436.37M440.37,864.01H440.58M438.37,857.43V862.01M438.37,866.01V870.59M440.58,849.45H440.79M444.79,849.45H445M442.79,842.18V847.45M442.79,851.45V856.72M445,846.97H445.21M449.21,846.97H449.43M447.21,839.59V844.97M447.21,848.97V854.35M449.43,869.04H449.64M453.64,869.04H453.85M451.64,862.71V867.04M451.64,871.04V875.37M453.85,883.01H454.06M458.06,883.01H458.27M456.06,877.44V881.01M456.06,885.01V888.57M458.27,874.59H458.48M462.48,874.59H462.69M460.48,868.55V872.59M460.48,876.59V880.62M462.69,874.26H462.9M466.9,874.26H467.11M464.9,868.21V872.26M464.9,876.26V880.31M467.11,895.15H467.32M471.32,895.15H471.53M469.32,890.35V893.15M469.32,897.15V899.95M471.53,884.05H471.74M475.74,884.05H475.95M473.74,878.55V882.05M473.74,886.05V889.55M475.96,892.67H476.17M480.17,892.67H480.38M478.17,887.71V890.67M478.17,894.67V897.63M480.38,899.72H480.59M484.59,899.72H484.8M482.59,895.24V897.72M482.59,901.72V904.19M484.8,898.02H485.01M489.01,898.02H489.22M487.01,893.42V896.02M487.01,900.02V902.62M489.22,907.23H489.43M493.43,907.23H493.64M491.43,903.34V905.23M491.43,909.23V911.12M493.64,913.3H493.85M497.85,913.3H498.06M495.85,909.96V911.3M495.85,915.3V916.64M498.06,912.71H498.27M502.27,912.71H502.49M500.27,909.31V910.71M500.27,914.71V916.11M502.49,913.3H502.7M506.7,913.3H506.91M504.7,909.96V911.3M504.7,915.3V916.64M506.91,916.82H507.12M511.12,916.82H511.33M509.12,913.84V914.82M509.12,918.82V919.8M511.33,917.93H511.54M515.54,917.93H515.75M513.54,915.08V915.93M513.54,919.93V920.78M515.75,920.22H515.96M519.96,920.22H520.17M517.96,917.64V918.22M517.96,922.22V922.79M520.17,922.89H520.38M524.38,922.89H524.59M522.38,920.68V920.89M522.38,924.89V925.11M524.59,920.22H524.8M528.8,920.22H529.01M526.8,917.64V918.22M526.8,922.22V922.79M529.02,927.53H529.23M533.23,927.53H533.44M531.23,926.16V925.53M531.23,929.53V928.9M533.44,921.78H533.65M537.65,921.78H537.86M535.65,919.41V919.78M535.65,923.78V924.15M537.86,924.92H538.07M542.07,924.92H542.28M540.07,923.02V922.92M540.07,926.92V926.81M542.28,921.13H542.49M546.49,921.13H546.7M544.49,918.67V919.13M544.49,923.13V923.59M546.7,925.18H546.91M550.91,925.18H551.12M548.91,923.33V923.18M548.91,927.18V927.02M551.12,925.57H551.33M555.33,925.57H555.54M553.33,923.79V923.57M553.33,927.57V927.35M555.55,926.48H555.76M559.76,926.48H559.97M557.76,924.88V924.48M557.76,928.48V928.08M559.97,923.22H560.18M564.18,923.22H564.39M562.18,921.05V921.22M562.18,925.22V925.38M564.39,925.18H564.6M568.6,925.18H568.81M566.6,923.33V923.18M566.6,927.18V927.02M568.81,927.01H569.02M573.02,927.01H573.23M571.02,925.52V925.01M571.02,929.01V928.49M573.23,925.9H573.44M577.44,925.9H577.65M575.44,924.18V923.9M575.44,927.9V927.61M577.65,928.18H577.86M581.86,928.18H582.08M579.86,926.98V926.18M579.86,930.18V929.38M582.08,927.79H582.29M586.29,927.79H586.5M584.29,926.48V925.79M584.29,929.79V929.09M586.5,928.18H586.71M590.71,928.18H590.92M588.71,926.98V926.18M588.71,930.18V929.38M590.92,928.18H591.13M595.13,928.18H595.34M593.13,926.98V926.18M593.13,930.18V929.38M595.34,928.77H595.55M599.55,928.77H599.76M597.55,927.74V926.77M597.55,930.77V929.8M599.76,928.18H599.97M603.97,928.18H604.18M601.97,926.98V926.18M601.97,930.18V929.38M604.18,929.75H604.39M608.39,929.75H608.61M606.39,929.09V927.75M606.39,931.75V930.4M608.61,927.79H608.82M612.82,927.79H613.03M610.82,926.48V925.79M610.82,929.79V929.09M613.03,928.77H613.24M617.24,928.77H617.45M615.24,927.74V926.77M615.24,930.77V929.8M617.45,928.18H617.66M621.66,928.18H621.87M619.66,926.98V926.18M619.66,930.18V929.38M621.87,928.77H622.08M626.08,928.77H626.29M624.08,927.74V926.77M624.08,930.77V929.8M626.29,929.75H626.5M630.5,929.75H630.71M628.5,929.09V927.75M628.5,931.75V930.4M630.71,928.77H630.92M634.92,928.77H635.13M632.92,927.74V926.77M632.92,930.77V929.8M635.13,929.75H635.35M639.35,929.75H639.56M637.35,929.09V927.75M637.35,931.75V930.4" stroke="#1a1a1a" stroke-width="1.2" fill="none"/>
<g fill="#fff" stroke="#000" stroke-width="1.15"><circle cx="394.15" cy="927.98" r="2.0"/><circle cx="398.58" cy="916.04" r="2.0"/><circle cx="403" cy="896.58" r="2.0"/><circle cx="407.42" cy="869.04" r="2.0"/><circle cx="411.84" cy="865.38" r="2.0"/><circle cx="416.26" cy="835.74" r="2.0"/><circle cx="420.68" cy="842.4" r="2.0"/><circle cx="425.11" cy="846.97" r="2.0"/><circle cx="429.53" cy="842.4" r="2.0"/><circle cx="433.95" cy="850.11" r="2.0"/><circle cx="438.37" cy="864.01" r="2.0"/><circle cx="442.79" cy="849.45" r="2.0"/><circle cx="447.21" cy="846.97" r="2.0"/><circle cx="451.64" cy="869.04" r="2.0"/><circle cx="456.06" cy="883.01" r="2.0"/><circle cx="460.48" cy="874.59" r="2.0"/><circle cx="464.9" cy="874.26" r="2.0"/><circle cx="469.32" cy="895.15" r="2.0"/><circle cx="473.74" cy="884.05" r="2.0"/><circle cx="478.17" cy="892.67" r="2.0"/><circle cx="482.59" cy="899.72" r="2.0"/><circle cx="487.01" cy="898.02" r="2.0"/><circle cx="491.43" cy="907.23" r="2.0"/><circle cx="495.85" cy="913.3" r="2.0"/><circle cx="500.27" cy="912.71" r="2.0"/><circle cx="504.7" cy="913.3" r="2.0"/><circle cx="509.12" cy="916.82" r="2.0"/><circle cx="513.54" cy="917.93" r="2.0"/><circle cx="517.96" cy="920.22" r="2.0"/><circle cx="522.38" cy="922.89" r="2.0"/><circle cx="526.8" cy="920.22" r="2.0"/><circle cx="531.23" cy="927.53" r="2.0"/><circle cx="535.65" cy="921.78" r="2.0"/><circle cx="540.07" cy="924.92" r="2.0"/><circle cx="544.49" cy="921.13" r="2.0"/><circle cx="548.91" cy="925.18" r="2.0"/><circle cx="553.33" cy="925.57" r="2.0"/><circle cx="557.76" cy="926.48" r="2.0"/><circle cx="562.18" cy="923.22" r="2.0"/><circle cx="566.6" cy="925.18" r="2.0"/><circle cx="571.02" cy="927.01" r="2.0"/><circle cx="575.44" cy="925.9" r="2.0"/><circle cx="579.86" cy="928.18" r="2.0"/><circle cx="584.29" cy="927.79" r="2.0"/><circle cx="588.71" cy="928.18" r="2.0"/><circle cx="593.13" cy="928.18" r="2.0"/><circle cx="597.55" cy="928.77" r="2.0"/><circle cx="601.97" cy="928.18" r="2.0"/><circle cx="606.39" cy="929.75" r="2.0"/><circle cx="610.82" cy="927.79" r="2.0"/><circle cx="615.24" cy="928.77" r="2.0"/><circle cx="619.66" cy="928.18" r="2.0"/><circle cx="624.08" cy="928.77" r="2.0"/><circle cx="628.5" cy="929.75" r="2.0"/><circle cx="632.92" cy="928.77" r="2.0"/><circle cx="637.35" cy="929.75" r="2.0"/></g>
<g fill="#000"><circle cx="394.15" cy="930.07" r="2.4"/><circle cx="398.58" cy="930.07" r="2.4"/><circle cx="403" cy="930.07" r="2.4"/><circle cx="407.42" cy="930.07" r="2.4"/><circle cx="416.26" cy="929.42" r="2.4"/><circle cx="420.68" cy="929.09" r="2.4"/><circle cx="425.11" cy="929.75" r="2.4"/><circle cx="429.53" cy="929.75" r="2.4"/><circle cx="433.95" cy="929.75" r="2.4"/><circle cx="438.37" cy="930.07" r="2.4"/><circle cx="442.79" cy="929.75" r="2.4"/><circle cx="447.21" cy="930.07" r="2.4"/><circle cx="451.64" cy="929.42" r="2.4"/><circle cx="469.32" cy="930.07" r="2.4"/><circle cx="473.74" cy="930.07" r="2.4"/><circle cx="478.17" cy="930.07" r="2.4"/></g>
<rect x="383.1" y="740.1" width="265.3" height="190.3" fill="none" stroke="#000" stroke-width="1.3"/>
<text transform="translate(383.1,943.9) scale(0.9,1)" text-anchor="middle" font-size="10.2">−1</text>
<text transform="translate(427.32,943.9) scale(0.9,1)" text-anchor="middle" font-size="10.2">0</text>
<text transform="translate(471.53,943.9) scale(0.9,1)" text-anchor="middle" font-size="10.2">1</text>
<text transform="translate(515.75,943.9) scale(0.9,1)" text-anchor="middle" font-size="10.2">2</text>
<text transform="translate(559.97,943.9) scale(0.9,1)" text-anchor="middle" font-size="10.2">3</text>
<text transform="translate(604.18,943.9) scale(0.9,1)" text-anchor="middle" font-size="10.2">4</text>
<text transform="translate(648.4,943.9) scale(0.9,1)" text-anchor="middle" font-size="10.2">5</text>
<text transform="translate(378.1,934.1) scale(0.9,1)" text-anchor="end" font-size="10.2">0</text>
<text transform="translate(378.1,901.46) scale(0.9,1)" text-anchor="end" font-size="10.2">50</text>
<text transform="translate(378.1,868.82) scale(0.9,1)" text-anchor="end" font-size="10.2">100</text>
<text transform="translate(378.1,836.18) scale(0.9,1)" text-anchor="end" font-size="10.2">150</text>
<text transform="translate(378.1,803.54) scale(0.9,1)" text-anchor="end" font-size="10.2">200</text>
<text transform="translate(378.1,770.9) scale(0.9,1)" text-anchor="end" font-size="10.2">250</text>
<text transform="translate(347.8,804.2) rotate(-90)" font-size="12.1" textLength="64.1" lengthAdjust="spacingAndGlyphs">Events / 0.1</text>
<text x="591.2" y="966.2" font-size="12.0" font-style="italic">p</text><text x="599.0" y="959.5" font-size="8.6">3μ</text><text x="599.6" y="969.3" font-size="8.6">T</text><text x="608.0" y="966.2" font-size="12.0">/</text><text x="612.4" y="966.2" font-size="12.0" font-style="italic">E</text><text x="622.8" y="959.5" font-size="8.6">miss</text><text x="622.2" y="969.3" font-size="8.6">T,cal</text><text x="640.4" y="966.2" font-size="12.0">-1</text>
<text x="542.3" y="756.2" font-size="11.3" font-weight="bold" font-style="italic" textLength="37.4" lengthAdjust="spacingAndGlyphs">ATLAS</text>
<path d="M543.4,772.1l1.3,-0.6l1.7,6.0l1.4,-9.9h5.2" fill="none" stroke="#000" stroke-width="1.05"/>
<text x="548.2" y="777.5" font-size="11.4" textLength="81.8" lengthAdjust="spacingAndGlyphs">s=8 TeV, 20.3 fb</text>
<text x="630.2" y="772.7" font-size="7.6">-1</text>
<path d="M539.4,799.1h17.8M539.4,808.3h17.8" stroke="#444" stroke-width="1.1"/><circle cx="548.3" cy="799.1" r="2.1" fill="#888" stroke="#333" stroke-width="0.9"/><circle cx="548.3" cy="808.3" r="2.2" fill="#000"/><rect x="539.4" y="814.1" width="17.8" height="6.6" fill="#cdcdcd"/><rect x="539.4" y="823.1" width="17.8" height="6.6" fill="#a0a0a0"/><g font-size="7.6" fill="#1a1a1a" stroke="#1a1a1a" stroke-width="0.22"><text x="560" y="801.8">SB data (loose)</text><text x="560" y="811">SB data (tight+<tspan font-style="italic">x</tspan>&gt;<tspan font-style="italic">x</tspan><tspan dy="1.8" font-size="5">0</tspan><tspan dy="-1.8">)</tspan></text><text x="560" y="820">Signal (loose)</text><text x="560" y="829">Signal (tight+<tspan font-style="italic">x</tspan>&gt;<tspan font-style="italic">x</tspan><tspan dy="1.8" font-size="5">0</tspan><tspan dy="-1.8">)</tspan></text></g>
<text x="592.2" y="882.4" font-family='"Liberation Serif", serif' font-weight="bold" font-size="14">(h)</text>
</svg></body></html>
